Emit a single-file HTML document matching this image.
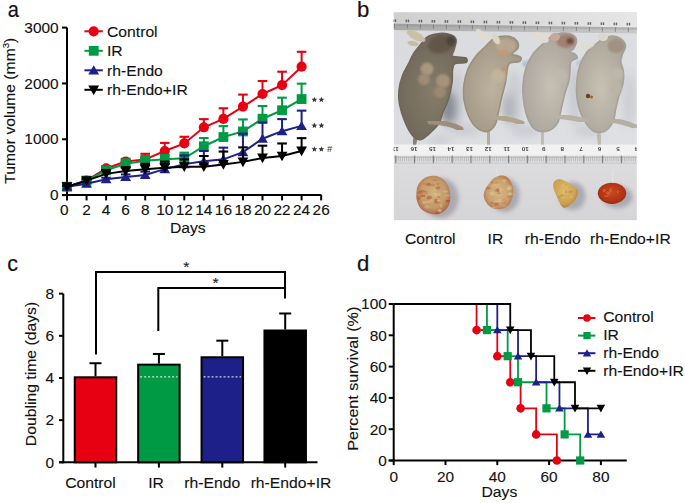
<!DOCTYPE html>
<html><head><meta charset="utf-8"><style>
html,body{margin:0;padding:0;background:#fff;}
svg{display:block;}
text{font-family:"Liberation Sans",sans-serif;}
</style></head><body>
<svg width="685" height="503" viewBox="0 0 685 503">
<rect width="685" height="503" fill="#fff"/>
<defs>
<clipPath id="pc"><rect x="393.6" y="12.2" width="243.29999999999995" height="208.20000000000002"/></clipPath>
<filter id="b1" x="-20%" y="-20%" width="140%" height="140%"><feGaussianBlur stdDeviation="0.9"/></filter>
<filter id="b15" x="-20%" y="-20%" width="140%" height="140%"><feGaussianBlur stdDeviation="1.5"/></filter>
<filter id="b2" x="-30%" y="-30%" width="160%" height="160%"><feGaussianBlur stdDeviation="2.2"/></filter>
<filter id="b3" x="-50%" y="-50%" width="200%" height="200%"><feGaussianBlur stdDeviation="4"/></filter>
<filter id="b05"><feGaussianBlur stdDeviation="0.5"/></filter>
<filter id="b07"><feGaussianBlur stdDeviation="0.7"/></filter>
<linearGradient id="bgU" x1="0" y1="0" x2="1" y2="1"><stop offset="0" stop-color="#d9dadd"/><stop offset="1" stop-color="#dfe0e3"/></linearGradient>
<linearGradient id="bgL" x1="0" y1="0" x2="0" y2="1"><stop offset="0" stop-color="#dcdcde"/><stop offset="1" stop-color="#d5d5d8"/></linearGradient>
<linearGradient id="rulT" x1="0" y1="0" x2="1" y2="0"><stop offset="0" stop-color="#cfcfcf"/><stop offset="1" stop-color="#e6e6e6"/></linearGradient>
<linearGradient id="rulB" x1="0" y1="0" x2="1" y2="0"><stop offset="0" stop-color="#9c9c9c"/><stop offset="1" stop-color="#bdbdbd"/></linearGradient>
<radialGradient id="m1" cx="0.5" cy="0.55" r="0.6"><stop offset="0" stop-color="#867c6a"/><stop offset="1" stop-color="#6c6558"/></radialGradient>
<radialGradient id="m2" cx="0.5" cy="0.55" r="0.6"><stop offset="0" stop-color="#bcb29e"/><stop offset="1" stop-color="#a09684"/></radialGradient>
<radialGradient id="m3" cx="0.5" cy="0.55" r="0.6"><stop offset="0" stop-color="#c6c0b5"/><stop offset="1" stop-color="#a8a298"/></radialGradient>
<radialGradient id="m4" cx="0.5" cy="0.55" r="0.6"><stop offset="0" stop-color="#c8c2b5"/><stop offset="1" stop-color="#aaa498"/></radialGradient>
<radialGradient id="t1" cx="0.5" cy="0.45" r="0.62"><stop offset="0" stop-color="#cdb27e"/><stop offset="0.6" stop-color="#c49a6a"/><stop offset="1" stop-color="#a85a3e"/></radialGradient>
<radialGradient id="t2" cx="0.5" cy="0.5" r="0.62"><stop offset="0" stop-color="#d4ba84"/><stop offset="0.6" stop-color="#c8a070"/><stop offset="1" stop-color="#ac6444"/></radialGradient>
<radialGradient id="t3" cx="0.45" cy="0.4" r="0.65"><stop offset="0" stop-color="#dcbc6c"/><stop offset="0.7" stop-color="#cca050"/><stop offset="1" stop-color="#a87430"/></radialGradient>
<radialGradient id="t4" cx="0.5" cy="0.45" r="0.6"><stop offset="0" stop-color="#c84a22"/><stop offset="0.7" stop-color="#b43414"/><stop offset="1" stop-color="#8a240e"/></radialGradient>
</defs>
<g clip-path="url(#pc)">
<rect x="393.6" y="12.2" width="243.29999999999995" height="132.60000000000002" fill="url(#bgU)"/>
<polygon points="393.6,12.2 636.9,12.2 636.9,33.8 393.6,30.2" fill="url(#rulT)"/>
<polygon points="393.6,23.8 636.9,27.6 636.9,33.6 393.6,30.0" fill="url(#rulB)" opacity="0.75"/>
<polygon points="393.6,23.8 636.9,27.6 636.9,28.6 393.6,24.8" fill="#8c8c8c" opacity="0.35"/>
<line x1="394.6" y1="24.6" x2="394.6" y2="26.2" stroke="#8a8a8a" stroke-width="0.4"/>
<line x1="395.9" y1="24.6" x2="395.9" y2="26.2" stroke="#8a8a8a" stroke-width="0.4"/>
<line x1="397.2" y1="24.7" x2="397.2" y2="26.3" stroke="#8a8a8a" stroke-width="0.4"/>
<line x1="398.5" y1="24.7" x2="398.5" y2="26.3" stroke="#8a8a8a" stroke-width="0.4"/>
<line x1="399.8" y1="24.7" x2="399.8" y2="26.3" stroke="#8a8a8a" stroke-width="0.4"/>
<line x1="401.1" y1="24.7" x2="401.1" y2="26.3" stroke="#8a8a8a" stroke-width="0.4"/>
<line x1="402.4" y1="24.7" x2="402.4" y2="26.3" stroke="#8a8a8a" stroke-width="0.4"/>
<line x1="403.7" y1="24.8" x2="403.7" y2="26.4" stroke="#8a8a8a" stroke-width="0.4"/>
<line x1="405.0" y1="24.8" x2="405.0" y2="26.4" stroke="#8a8a8a" stroke-width="0.4"/>
<line x1="406.3" y1="24.8" x2="406.3" y2="26.4" stroke="#8a8a8a" stroke-width="0.4"/>
<line x1="407.6" y1="24.8" x2="407.6" y2="26.4" stroke="#8a8a8a" stroke-width="0.4"/>
<line x1="408.9" y1="24.8" x2="408.9" y2="26.4" stroke="#8a8a8a" stroke-width="0.4"/>
<line x1="410.2" y1="24.9" x2="410.2" y2="26.5" stroke="#8a8a8a" stroke-width="0.4"/>
<line x1="411.5" y1="24.9" x2="411.5" y2="26.5" stroke="#8a8a8a" stroke-width="0.4"/>
<line x1="412.8" y1="24.9" x2="412.8" y2="26.5" stroke="#8a8a8a" stroke-width="0.4"/>
<line x1="414.1" y1="24.9" x2="414.1" y2="26.5" stroke="#8a8a8a" stroke-width="0.4"/>
<line x1="415.4" y1="24.9" x2="415.4" y2="26.5" stroke="#8a8a8a" stroke-width="0.4"/>
<line x1="416.7" y1="25.0" x2="416.7" y2="26.6" stroke="#8a8a8a" stroke-width="0.4"/>
<line x1="418.0" y1="25.0" x2="418.0" y2="26.6" stroke="#8a8a8a" stroke-width="0.4"/>
<line x1="419.3" y1="25.0" x2="419.3" y2="26.6" stroke="#8a8a8a" stroke-width="0.4"/>
<line x1="420.6" y1="25.0" x2="420.6" y2="26.6" stroke="#8a8a8a" stroke-width="0.4"/>
<line x1="421.9" y1="25.0" x2="421.9" y2="26.6" stroke="#8a8a8a" stroke-width="0.4"/>
<line x1="423.2" y1="25.1" x2="423.2" y2="26.7" stroke="#8a8a8a" stroke-width="0.4"/>
<line x1="424.5" y1="25.1" x2="424.5" y2="26.7" stroke="#8a8a8a" stroke-width="0.4"/>
<line x1="425.8" y1="25.1" x2="425.8" y2="26.7" stroke="#8a8a8a" stroke-width="0.4"/>
<line x1="427.1" y1="25.1" x2="427.1" y2="26.7" stroke="#8a8a8a" stroke-width="0.4"/>
<line x1="428.4" y1="25.1" x2="428.4" y2="26.7" stroke="#8a8a8a" stroke-width="0.4"/>
<line x1="429.7" y1="25.2" x2="429.7" y2="26.8" stroke="#8a8a8a" stroke-width="0.4"/>
<line x1="431.0" y1="25.2" x2="431.0" y2="26.8" stroke="#8a8a8a" stroke-width="0.4"/>
<line x1="432.3" y1="25.2" x2="432.3" y2="26.8" stroke="#8a8a8a" stroke-width="0.4"/>
<line x1="433.6" y1="25.2" x2="433.6" y2="26.8" stroke="#8a8a8a" stroke-width="0.4"/>
<line x1="434.9" y1="25.2" x2="434.9" y2="26.8" stroke="#8a8a8a" stroke-width="0.4"/>
<line x1="436.2" y1="25.3" x2="436.2" y2="26.9" stroke="#8a8a8a" stroke-width="0.4"/>
<line x1="437.5" y1="25.3" x2="437.5" y2="26.9" stroke="#8a8a8a" stroke-width="0.4"/>
<line x1="438.8" y1="25.3" x2="438.8" y2="26.9" stroke="#8a8a8a" stroke-width="0.4"/>
<line x1="440.1" y1="25.3" x2="440.1" y2="26.9" stroke="#8a8a8a" stroke-width="0.4"/>
<line x1="441.4" y1="25.3" x2="441.4" y2="26.9" stroke="#8a8a8a" stroke-width="0.4"/>
<line x1="442.7" y1="25.4" x2="442.7" y2="27.0" stroke="#8a8a8a" stroke-width="0.4"/>
<line x1="444.0" y1="25.4" x2="444.0" y2="27.0" stroke="#8a8a8a" stroke-width="0.4"/>
<line x1="445.3" y1="25.4" x2="445.3" y2="27.0" stroke="#8a8a8a" stroke-width="0.4"/>
<line x1="446.6" y1="25.4" x2="446.6" y2="27.0" stroke="#8a8a8a" stroke-width="0.4"/>
<line x1="447.9" y1="25.4" x2="447.9" y2="27.0" stroke="#8a8a8a" stroke-width="0.4"/>
<line x1="449.2" y1="25.5" x2="449.2" y2="27.1" stroke="#8a8a8a" stroke-width="0.4"/>
<line x1="450.5" y1="25.5" x2="450.5" y2="27.1" stroke="#8a8a8a" stroke-width="0.4"/>
<line x1="451.8" y1="25.5" x2="451.8" y2="27.1" stroke="#8a8a8a" stroke-width="0.4"/>
<line x1="453.1" y1="25.5" x2="453.1" y2="27.1" stroke="#8a8a8a" stroke-width="0.4"/>
<line x1="454.4" y1="25.5" x2="454.4" y2="27.1" stroke="#8a8a8a" stroke-width="0.4"/>
<line x1="455.7" y1="25.6" x2="455.7" y2="27.2" stroke="#8a8a8a" stroke-width="0.4"/>
<line x1="457.0" y1="25.6" x2="457.0" y2="27.2" stroke="#8a8a8a" stroke-width="0.4"/>
<line x1="458.3" y1="25.6" x2="458.3" y2="27.2" stroke="#8a8a8a" stroke-width="0.4"/>
<line x1="459.6" y1="25.6" x2="459.6" y2="27.2" stroke="#8a8a8a" stroke-width="0.4"/>
<line x1="460.9" y1="25.7" x2="460.9" y2="27.3" stroke="#8a8a8a" stroke-width="0.4"/>
<line x1="462.2" y1="25.7" x2="462.2" y2="27.3" stroke="#8a8a8a" stroke-width="0.4"/>
<line x1="463.5" y1="25.7" x2="463.5" y2="27.3" stroke="#8a8a8a" stroke-width="0.4"/>
<line x1="464.8" y1="25.7" x2="464.8" y2="27.3" stroke="#8a8a8a" stroke-width="0.4"/>
<line x1="466.1" y1="25.7" x2="466.1" y2="27.3" stroke="#8a8a8a" stroke-width="0.4"/>
<line x1="467.4" y1="25.8" x2="467.4" y2="27.4" stroke="#8a8a8a" stroke-width="0.4"/>
<line x1="468.7" y1="25.8" x2="468.7" y2="27.4" stroke="#8a8a8a" stroke-width="0.4"/>
<line x1="470.0" y1="25.8" x2="470.0" y2="27.4" stroke="#8a8a8a" stroke-width="0.4"/>
<line x1="471.3" y1="25.8" x2="471.3" y2="27.4" stroke="#8a8a8a" stroke-width="0.4"/>
<line x1="472.6" y1="25.8" x2="472.6" y2="27.4" stroke="#8a8a8a" stroke-width="0.4"/>
<line x1="473.9" y1="25.9" x2="473.9" y2="27.5" stroke="#8a8a8a" stroke-width="0.4"/>
<line x1="475.2" y1="25.9" x2="475.2" y2="27.5" stroke="#8a8a8a" stroke-width="0.4"/>
<line x1="476.5" y1="25.9" x2="476.5" y2="27.5" stroke="#8a8a8a" stroke-width="0.4"/>
<line x1="477.8" y1="25.9" x2="477.8" y2="27.5" stroke="#8a8a8a" stroke-width="0.4"/>
<line x1="479.1" y1="25.9" x2="479.1" y2="27.5" stroke="#8a8a8a" stroke-width="0.4"/>
<line x1="480.4" y1="26.0" x2="480.4" y2="27.6" stroke="#8a8a8a" stroke-width="0.4"/>
<line x1="481.7" y1="26.0" x2="481.7" y2="27.6" stroke="#8a8a8a" stroke-width="0.4"/>
<line x1="483.0" y1="26.0" x2="483.0" y2="27.6" stroke="#8a8a8a" stroke-width="0.4"/>
<line x1="484.3" y1="26.0" x2="484.3" y2="27.6" stroke="#8a8a8a" stroke-width="0.4"/>
<line x1="485.6" y1="26.0" x2="485.6" y2="27.6" stroke="#8a8a8a" stroke-width="0.4"/>
<line x1="486.9" y1="26.1" x2="486.9" y2="27.7" stroke="#8a8a8a" stroke-width="0.4"/>
<line x1="488.2" y1="26.1" x2="488.2" y2="27.7" stroke="#8a8a8a" stroke-width="0.4"/>
<line x1="489.5" y1="26.1" x2="489.5" y2="27.7" stroke="#8a8a8a" stroke-width="0.4"/>
<line x1="490.8" y1="26.1" x2="490.8" y2="27.7" stroke="#8a8a8a" stroke-width="0.4"/>
<line x1="492.1" y1="26.1" x2="492.1" y2="27.7" stroke="#8a8a8a" stroke-width="0.4"/>
<line x1="493.4" y1="26.2" x2="493.4" y2="27.8" stroke="#8a8a8a" stroke-width="0.4"/>
<line x1="494.7" y1="26.2" x2="494.7" y2="27.8" stroke="#8a8a8a" stroke-width="0.4"/>
<line x1="496.0" y1="26.2" x2="496.0" y2="27.8" stroke="#8a8a8a" stroke-width="0.4"/>
<line x1="497.3" y1="26.2" x2="497.3" y2="27.8" stroke="#8a8a8a" stroke-width="0.4"/>
<line x1="498.6" y1="26.2" x2="498.6" y2="27.8" stroke="#8a8a8a" stroke-width="0.4"/>
<line x1="499.9" y1="26.3" x2="499.9" y2="27.9" stroke="#8a8a8a" stroke-width="0.4"/>
<line x1="501.2" y1="26.3" x2="501.2" y2="27.9" stroke="#8a8a8a" stroke-width="0.4"/>
<line x1="502.5" y1="26.3" x2="502.5" y2="27.9" stroke="#8a8a8a" stroke-width="0.4"/>
<line x1="503.8" y1="26.3" x2="503.8" y2="27.9" stroke="#8a8a8a" stroke-width="0.4"/>
<line x1="505.1" y1="26.3" x2="505.1" y2="27.9" stroke="#8a8a8a" stroke-width="0.4"/>
<line x1="506.4" y1="26.4" x2="506.4" y2="28.0" stroke="#8a8a8a" stroke-width="0.4"/>
<line x1="507.7" y1="26.4" x2="507.7" y2="28.0" stroke="#8a8a8a" stroke-width="0.4"/>
<line x1="509.0" y1="26.4" x2="509.0" y2="28.0" stroke="#8a8a8a" stroke-width="0.4"/>
<line x1="510.3" y1="26.4" x2="510.3" y2="28.0" stroke="#8a8a8a" stroke-width="0.4"/>
<line x1="511.6" y1="26.4" x2="511.6" y2="28.0" stroke="#8a8a8a" stroke-width="0.4"/>
<line x1="512.9" y1="26.5" x2="512.9" y2="28.1" stroke="#8a8a8a" stroke-width="0.4"/>
<line x1="514.2" y1="26.5" x2="514.2" y2="28.1" stroke="#8a8a8a" stroke-width="0.4"/>
<line x1="515.5" y1="26.5" x2="515.5" y2="28.1" stroke="#8a8a8a" stroke-width="0.4"/>
<line x1="516.8" y1="26.5" x2="516.8" y2="28.1" stroke="#8a8a8a" stroke-width="0.4"/>
<line x1="518.1" y1="26.5" x2="518.1" y2="28.1" stroke="#8a8a8a" stroke-width="0.4"/>
<line x1="519.4" y1="26.6" x2="519.4" y2="28.2" stroke="#8a8a8a" stroke-width="0.4"/>
<line x1="520.7" y1="26.6" x2="520.7" y2="28.2" stroke="#8a8a8a" stroke-width="0.4"/>
<line x1="522.0" y1="26.6" x2="522.0" y2="28.2" stroke="#8a8a8a" stroke-width="0.4"/>
<line x1="523.3" y1="26.6" x2="523.3" y2="28.2" stroke="#8a8a8a" stroke-width="0.4"/>
<line x1="524.6" y1="26.6" x2="524.6" y2="28.2" stroke="#8a8a8a" stroke-width="0.4"/>
<line x1="525.9" y1="26.7" x2="525.9" y2="28.3" stroke="#8a8a8a" stroke-width="0.4"/>
<line x1="527.2" y1="26.7" x2="527.2" y2="28.3" stroke="#8a8a8a" stroke-width="0.4"/>
<line x1="528.5" y1="26.7" x2="528.5" y2="28.3" stroke="#8a8a8a" stroke-width="0.4"/>
<line x1="529.8" y1="26.7" x2="529.8" y2="28.3" stroke="#8a8a8a" stroke-width="0.4"/>
<line x1="531.1" y1="26.7" x2="531.1" y2="28.3" stroke="#8a8a8a" stroke-width="0.4"/>
<line x1="532.4" y1="26.8" x2="532.4" y2="28.4" stroke="#8a8a8a" stroke-width="0.4"/>
<line x1="533.7" y1="26.8" x2="533.7" y2="28.4" stroke="#8a8a8a" stroke-width="0.4"/>
<line x1="535.0" y1="26.8" x2="535.0" y2="28.4" stroke="#8a8a8a" stroke-width="0.4"/>
<line x1="536.3" y1="26.8" x2="536.3" y2="28.4" stroke="#8a8a8a" stroke-width="0.4"/>
<line x1="537.6" y1="26.8" x2="537.6" y2="28.4" stroke="#8a8a8a" stroke-width="0.4"/>
<line x1="538.9" y1="26.9" x2="538.9" y2="28.5" stroke="#8a8a8a" stroke-width="0.4"/>
<line x1="540.2" y1="26.9" x2="540.2" y2="28.5" stroke="#8a8a8a" stroke-width="0.4"/>
<line x1="541.5" y1="26.9" x2="541.5" y2="28.5" stroke="#8a8a8a" stroke-width="0.4"/>
<line x1="542.8" y1="26.9" x2="542.8" y2="28.5" stroke="#8a8a8a" stroke-width="0.4"/>
<line x1="544.1" y1="27.0" x2="544.1" y2="28.6" stroke="#8a8a8a" stroke-width="0.4"/>
<line x1="545.4" y1="27.0" x2="545.4" y2="28.6" stroke="#8a8a8a" stroke-width="0.4"/>
<line x1="546.7" y1="27.0" x2="546.7" y2="28.6" stroke="#8a8a8a" stroke-width="0.4"/>
<line x1="548.0" y1="27.0" x2="548.0" y2="28.6" stroke="#8a8a8a" stroke-width="0.4"/>
<line x1="549.3" y1="27.0" x2="549.3" y2="28.6" stroke="#8a8a8a" stroke-width="0.4"/>
<line x1="550.6" y1="27.1" x2="550.6" y2="28.7" stroke="#8a8a8a" stroke-width="0.4"/>
<line x1="551.9" y1="27.1" x2="551.9" y2="28.7" stroke="#8a8a8a" stroke-width="0.4"/>
<line x1="553.2" y1="27.1" x2="553.2" y2="28.7" stroke="#8a8a8a" stroke-width="0.4"/>
<line x1="554.5" y1="27.1" x2="554.5" y2="28.7" stroke="#8a8a8a" stroke-width="0.4"/>
<line x1="555.8" y1="27.1" x2="555.8" y2="28.7" stroke="#8a8a8a" stroke-width="0.4"/>
<line x1="557.1" y1="27.2" x2="557.1" y2="28.8" stroke="#8a8a8a" stroke-width="0.4"/>
<line x1="558.4" y1="27.2" x2="558.4" y2="28.8" stroke="#8a8a8a" stroke-width="0.4"/>
<line x1="559.7" y1="27.2" x2="559.7" y2="28.8" stroke="#8a8a8a" stroke-width="0.4"/>
<line x1="561.0" y1="27.2" x2="561.0" y2="28.8" stroke="#8a8a8a" stroke-width="0.4"/>
<line x1="562.3" y1="27.2" x2="562.3" y2="28.8" stroke="#8a8a8a" stroke-width="0.4"/>
<line x1="563.6" y1="27.3" x2="563.6" y2="28.9" stroke="#8a8a8a" stroke-width="0.4"/>
<line x1="564.9" y1="27.3" x2="564.9" y2="28.9" stroke="#8a8a8a" stroke-width="0.4"/>
<line x1="566.2" y1="27.3" x2="566.2" y2="28.9" stroke="#8a8a8a" stroke-width="0.4"/>
<line x1="567.5" y1="27.3" x2="567.5" y2="28.9" stroke="#8a8a8a" stroke-width="0.4"/>
<line x1="568.8" y1="27.3" x2="568.8" y2="28.9" stroke="#8a8a8a" stroke-width="0.4"/>
<line x1="570.1" y1="27.4" x2="570.1" y2="29.0" stroke="#8a8a8a" stroke-width="0.4"/>
<line x1="571.4" y1="27.4" x2="571.4" y2="29.0" stroke="#8a8a8a" stroke-width="0.4"/>
<line x1="572.7" y1="27.4" x2="572.7" y2="29.0" stroke="#8a8a8a" stroke-width="0.4"/>
<line x1="574.0" y1="27.4" x2="574.0" y2="29.0" stroke="#8a8a8a" stroke-width="0.4"/>
<line x1="575.3" y1="27.4" x2="575.3" y2="29.0" stroke="#8a8a8a" stroke-width="0.4"/>
<line x1="576.6" y1="27.5" x2="576.6" y2="29.1" stroke="#8a8a8a" stroke-width="0.4"/>
<line x1="577.9" y1="27.5" x2="577.9" y2="29.1" stroke="#8a8a8a" stroke-width="0.4"/>
<line x1="579.2" y1="27.5" x2="579.2" y2="29.1" stroke="#8a8a8a" stroke-width="0.4"/>
<line x1="580.5" y1="27.5" x2="580.5" y2="29.1" stroke="#8a8a8a" stroke-width="0.4"/>
<line x1="581.8" y1="27.5" x2="581.8" y2="29.1" stroke="#8a8a8a" stroke-width="0.4"/>
<line x1="583.1" y1="27.6" x2="583.1" y2="29.2" stroke="#8a8a8a" stroke-width="0.4"/>
<line x1="584.4" y1="27.6" x2="584.4" y2="29.2" stroke="#8a8a8a" stroke-width="0.4"/>
<line x1="585.7" y1="27.6" x2="585.7" y2="29.2" stroke="#8a8a8a" stroke-width="0.4"/>
<line x1="587.0" y1="27.6" x2="587.0" y2="29.2" stroke="#8a8a8a" stroke-width="0.4"/>
<line x1="588.3" y1="27.6" x2="588.3" y2="29.2" stroke="#8a8a8a" stroke-width="0.4"/>
<line x1="589.6" y1="27.7" x2="589.6" y2="29.3" stroke="#8a8a8a" stroke-width="0.4"/>
<line x1="590.9" y1="27.7" x2="590.9" y2="29.3" stroke="#8a8a8a" stroke-width="0.4"/>
<line x1="592.2" y1="27.7" x2="592.2" y2="29.3" stroke="#8a8a8a" stroke-width="0.4"/>
<line x1="593.5" y1="27.7" x2="593.5" y2="29.3" stroke="#8a8a8a" stroke-width="0.4"/>
<line x1="594.8" y1="27.7" x2="594.8" y2="29.3" stroke="#8a8a8a" stroke-width="0.4"/>
<line x1="596.1" y1="27.8" x2="596.1" y2="29.4" stroke="#8a8a8a" stroke-width="0.4"/>
<line x1="597.4" y1="27.8" x2="597.4" y2="29.4" stroke="#8a8a8a" stroke-width="0.4"/>
<line x1="598.7" y1="27.8" x2="598.7" y2="29.4" stroke="#8a8a8a" stroke-width="0.4"/>
<line x1="600.0" y1="27.8" x2="600.0" y2="29.4" stroke="#8a8a8a" stroke-width="0.4"/>
<line x1="601.3" y1="27.8" x2="601.3" y2="29.4" stroke="#8a8a8a" stroke-width="0.4"/>
<line x1="602.6" y1="27.9" x2="602.6" y2="29.5" stroke="#8a8a8a" stroke-width="0.4"/>
<line x1="603.9" y1="27.9" x2="603.9" y2="29.5" stroke="#8a8a8a" stroke-width="0.4"/>
<line x1="605.2" y1="27.9" x2="605.2" y2="29.5" stroke="#8a8a8a" stroke-width="0.4"/>
<line x1="606.5" y1="27.9" x2="606.5" y2="29.5" stroke="#8a8a8a" stroke-width="0.4"/>
<line x1="607.8" y1="27.9" x2="607.8" y2="29.5" stroke="#8a8a8a" stroke-width="0.4"/>
<line x1="609.1" y1="28.0" x2="609.1" y2="29.6" stroke="#8a8a8a" stroke-width="0.4"/>
<line x1="610.4" y1="28.0" x2="610.4" y2="29.6" stroke="#8a8a8a" stroke-width="0.4"/>
<line x1="611.7" y1="28.0" x2="611.7" y2="29.6" stroke="#8a8a8a" stroke-width="0.4"/>
<line x1="613.0" y1="28.0" x2="613.0" y2="29.6" stroke="#8a8a8a" stroke-width="0.4"/>
<line x1="614.3" y1="28.0" x2="614.3" y2="29.6" stroke="#8a8a8a" stroke-width="0.4"/>
<line x1="615.6" y1="28.1" x2="615.6" y2="29.7" stroke="#8a8a8a" stroke-width="0.4"/>
<line x1="616.9" y1="28.1" x2="616.9" y2="29.7" stroke="#8a8a8a" stroke-width="0.4"/>
<line x1="618.2" y1="28.1" x2="618.2" y2="29.7" stroke="#8a8a8a" stroke-width="0.4"/>
<line x1="619.5" y1="28.1" x2="619.5" y2="29.7" stroke="#8a8a8a" stroke-width="0.4"/>
<line x1="620.8" y1="28.1" x2="620.8" y2="29.7" stroke="#8a8a8a" stroke-width="0.4"/>
<line x1="622.1" y1="28.2" x2="622.1" y2="29.8" stroke="#8a8a8a" stroke-width="0.4"/>
<line x1="623.4" y1="28.2" x2="623.4" y2="29.8" stroke="#8a8a8a" stroke-width="0.4"/>
<line x1="624.7" y1="28.2" x2="624.7" y2="29.8" stroke="#8a8a8a" stroke-width="0.4"/>
<line x1="626.0" y1="28.2" x2="626.0" y2="29.8" stroke="#8a8a8a" stroke-width="0.4"/>
<line x1="627.3" y1="28.3" x2="627.3" y2="29.9" stroke="#8a8a8a" stroke-width="0.4"/>
<line x1="628.6" y1="28.3" x2="628.6" y2="29.9" stroke="#8a8a8a" stroke-width="0.4"/>
<line x1="629.9" y1="28.3" x2="629.9" y2="29.9" stroke="#8a8a8a" stroke-width="0.4"/>
<line x1="631.2" y1="28.3" x2="631.2" y2="29.9" stroke="#8a8a8a" stroke-width="0.4"/>
<line x1="632.5" y1="28.3" x2="632.5" y2="29.9" stroke="#8a8a8a" stroke-width="0.4"/>
<line x1="633.8" y1="28.4" x2="633.8" y2="30.0" stroke="#8a8a8a" stroke-width="0.4"/>
<line x1="635.1" y1="28.4" x2="635.1" y2="30.0" stroke="#8a8a8a" stroke-width="0.4"/>
<line x1="636.4" y1="28.4" x2="636.4" y2="30.0" stroke="#8a8a8a" stroke-width="0.4"/>
<line x1="394.4" y1="24.0" x2="394.4" y2="28.2" stroke="#666" stroke-width="0.6"/>
<rect x="392.6" y="19.4" width="1.3" height="2.6" fill="#333" opacity="0.7" filter="url(#b05)"/>
<rect x="394.7" y="19.4" width="1.5" height="2.6" fill="#333" opacity="0.7" filter="url(#b05)"/>
<line x1="407.4" y1="24.2" x2="407.4" y2="28.4" stroke="#666" stroke-width="0.6"/>
<rect x="405.6" y="19.6" width="1.3" height="2.6" fill="#333" opacity="0.7" filter="url(#b05)"/>
<rect x="407.7" y="19.6" width="1.5" height="2.6" fill="#333" opacity="0.7" filter="url(#b05)"/>
<line x1="420.4" y1="24.4" x2="420.4" y2="28.6" stroke="#666" stroke-width="0.6"/>
<rect x="418.6" y="19.8" width="1.3" height="2.6" fill="#333" opacity="0.7" filter="url(#b05)"/>
<rect x="420.7" y="19.8" width="1.5" height="2.6" fill="#333" opacity="0.7" filter="url(#b05)"/>
<line x1="433.4" y1="24.6" x2="433.4" y2="28.8" stroke="#666" stroke-width="0.6"/>
<rect x="431.6" y="20.0" width="1.3" height="2.6" fill="#333" opacity="0.7" filter="url(#b05)"/>
<rect x="433.7" y="20.0" width="1.5" height="2.6" fill="#333" opacity="0.7" filter="url(#b05)"/>
<line x1="446.4" y1="24.8" x2="446.4" y2="29.0" stroke="#666" stroke-width="0.6"/>
<rect x="444.6" y="20.2" width="1.3" height="2.6" fill="#333" opacity="0.7" filter="url(#b05)"/>
<rect x="446.7" y="20.2" width="1.5" height="2.6" fill="#333" opacity="0.7" filter="url(#b05)"/>
<line x1="459.4" y1="25.0" x2="459.4" y2="29.2" stroke="#666" stroke-width="0.6"/>
<rect x="457.6" y="20.3" width="1.3" height="2.6" fill="#333" opacity="0.7" filter="url(#b05)"/>
<rect x="459.7" y="20.3" width="1.5" height="2.6" fill="#333" opacity="0.7" filter="url(#b05)"/>
<line x1="472.4" y1="25.2" x2="472.4" y2="29.4" stroke="#666" stroke-width="0.6"/>
<rect x="470.6" y="20.5" width="1.3" height="2.6" fill="#333" opacity="0.7" filter="url(#b05)"/>
<rect x="472.7" y="20.5" width="1.5" height="2.6" fill="#333" opacity="0.7" filter="url(#b05)"/>
<line x1="485.4" y1="25.4" x2="485.4" y2="29.6" stroke="#666" stroke-width="0.6"/>
<rect x="483.6" y="20.7" width="1.3" height="2.6" fill="#333" opacity="0.7" filter="url(#b05)"/>
<rect x="485.7" y="20.7" width="1.5" height="2.6" fill="#333" opacity="0.7" filter="url(#b05)"/>
<line x1="498.4" y1="25.6" x2="498.4" y2="29.8" stroke="#666" stroke-width="0.6"/>
<rect x="496.6" y="20.9" width="1.3" height="2.6" fill="#333" opacity="0.7" filter="url(#b05)"/>
<rect x="498.7" y="20.9" width="1.5" height="2.6" fill="#333" opacity="0.7" filter="url(#b05)"/>
<line x1="511.4" y1="25.8" x2="511.4" y2="30.0" stroke="#666" stroke-width="0.6"/>
<rect x="509.6" y="21.1" width="1.3" height="2.6" fill="#333" opacity="0.7" filter="url(#b05)"/>
<rect x="511.7" y="21.1" width="1.5" height="2.6" fill="#333" opacity="0.7" filter="url(#b05)"/>
<line x1="524.4" y1="26.0" x2="524.4" y2="30.2" stroke="#666" stroke-width="0.6"/>
<rect x="522.6" y="21.3" width="1.3" height="2.6" fill="#333" opacity="0.7" filter="url(#b05)"/>
<rect x="524.7" y="21.3" width="1.5" height="2.6" fill="#333" opacity="0.7" filter="url(#b05)"/>
<line x1="537.4" y1="26.2" x2="537.4" y2="30.4" stroke="#666" stroke-width="0.6"/>
<rect x="535.6" y="21.5" width="1.3" height="2.6" fill="#333" opacity="0.7" filter="url(#b05)"/>
<rect x="537.7" y="21.5" width="1.5" height="2.6" fill="#333" opacity="0.7" filter="url(#b05)"/>
<line x1="550.4" y1="26.4" x2="550.4" y2="30.6" stroke="#666" stroke-width="0.6"/>
<rect x="548.6" y="21.7" width="1.3" height="2.6" fill="#333" opacity="0.7" filter="url(#b05)"/>
<rect x="550.7" y="21.7" width="1.5" height="2.6" fill="#333" opacity="0.7" filter="url(#b05)"/>
<line x1="563.4" y1="26.7" x2="563.4" y2="30.9" stroke="#666" stroke-width="0.6"/>
<rect x="561.6" y="21.8" width="1.3" height="2.6" fill="#333" opacity="0.7" filter="url(#b05)"/>
<rect x="563.7" y="21.8" width="1.5" height="2.6" fill="#333" opacity="0.7" filter="url(#b05)"/>
<line x1="576.4" y1="26.9" x2="576.4" y2="31.1" stroke="#666" stroke-width="0.6"/>
<rect x="574.6" y="22.0" width="1.3" height="2.6" fill="#333" opacity="0.7" filter="url(#b05)"/>
<rect x="576.7" y="22.0" width="1.5" height="2.6" fill="#333" opacity="0.7" filter="url(#b05)"/>
<line x1="589.4" y1="27.1" x2="589.4" y2="31.3" stroke="#666" stroke-width="0.6"/>
<rect x="587.6" y="22.2" width="1.3" height="2.6" fill="#333" opacity="0.7" filter="url(#b05)"/>
<rect x="589.7" y="22.2" width="1.5" height="2.6" fill="#333" opacity="0.7" filter="url(#b05)"/>
<line x1="602.4" y1="27.3" x2="602.4" y2="31.5" stroke="#666" stroke-width="0.6"/>
<rect x="600.6" y="22.4" width="1.3" height="2.6" fill="#333" opacity="0.7" filter="url(#b05)"/>
<rect x="602.7" y="22.4" width="1.5" height="2.6" fill="#333" opacity="0.7" filter="url(#b05)"/>
<line x1="615.4" y1="27.5" x2="615.4" y2="31.7" stroke="#666" stroke-width="0.6"/>
<rect x="613.6" y="22.6" width="1.3" height="2.6" fill="#333" opacity="0.7" filter="url(#b05)"/>
<rect x="615.7" y="22.6" width="1.5" height="2.6" fill="#333" opacity="0.7" filter="url(#b05)"/>
<line x1="628.4" y1="27.7" x2="628.4" y2="31.9" stroke="#666" stroke-width="0.6"/>
<rect x="626.6" y="22.8" width="1.3" height="2.6" fill="#333" opacity="0.7" filter="url(#b05)"/>
<rect x="628.7" y="22.8" width="1.5" height="2.6" fill="#333" opacity="0.7" filter="url(#b05)"/>
<ellipse cx="456" cy="100" rx="8" ry="30" fill="#b2b6be" opacity="0.5" filter="url(#b3)"/>
<ellipse cx="514" cy="100" rx="8" ry="30" fill="#b2b6be" opacity="0.45" filter="url(#b3)"/>
<ellipse cx="575" cy="95" rx="7" ry="30" fill="#b2b6be" opacity="0.5" filter="url(#b3)"/>
<ellipse cx="629" cy="100" rx="6" ry="28" fill="#b2b6be" opacity="0.4" filter="url(#b3)"/>
<ellipse cx="466" cy="130" rx="14" ry="5" fill="#b2b6be" opacity="0.5" filter="url(#b3)"/>
<ellipse cx="526" cy="131" rx="14" ry="5" fill="#b2b6be" opacity="0.5" filter="url(#b3)"/>
<ellipse cx="588" cy="131" rx="14" ry="5" fill="#b2b6be" opacity="0.5" filter="url(#b3)"/>
<ellipse cx="440" cy="140" rx="12" ry="5" fill="#b2b6be" opacity="0.4" filter="url(#b3)"/>
<ellipse cx="448" cy="108" rx="8" ry="17" fill="#6e727c" opacity="0.75" filter="url(#b3)"/>
<ellipse cx="508" cy="108" rx="6" ry="14" fill="#8e929c" opacity="0.5" filter="url(#b3)"/>
<ellipse cx="527" cy="64" rx="5" ry="3.5" fill="#a8bcd4" opacity="0.8" filter="url(#b1)"/>
<ellipse cx="580" cy="63" rx="4" ry="3.5" fill="#aebcd0" opacity="0.6" filter="url(#b1)"/>
<line x1="416" y1="134" x2="414" y2="146" stroke="#8a8174" stroke-width="4" stroke-linecap="round" filter="url(#b05)"/>
<line x1="488" y1="128" x2="489" y2="146" stroke="#b4ab9a" stroke-width="4" stroke-linecap="round" filter="url(#b05)"/>
<line x1="542" y1="128" x2="543" y2="146" stroke="#c0bcb4" stroke-width="4" stroke-linecap="round" filter="url(#b05)"/>
<line x1="598" y1="128" x2="600" y2="146" stroke="#bfbab0" stroke-width="4" stroke-linecap="round" filter="url(#b05)"/>
<path d="M421.0,44.0 C423.3,41.2 424.8,38.2 428.0,36.5 C431.2,34.8 436.2,33.8 440.0,33.5 C443.8,33.2 448.3,33.9 451.0,35.0 C453.7,36.1 455.5,37.5 456.0,40.0 C456.5,42.5 454.7,47.3 454.0,50.0 C453.3,52.7 451.3,54.8 452.0,56.0 C452.7,57.2 455.7,56.7 458.0,57.0 C460.3,57.3 464.7,57.1 466.0,58.0 C467.3,58.9 467.8,61.6 466.0,62.5 C464.2,63.4 457.2,62.2 455.0,63.5 C452.8,64.8 453.0,66.8 452.5,70.0 C452.0,73.2 452.7,77.8 452.0,82.6 C451.3,87.4 450.0,94.1 448.5,99.0 C447.0,103.9 444.6,108.0 443.0,112.0 C441.4,116.0 441.0,119.7 439.0,123.0 C437.0,126.3 434.0,129.2 431.0,132.0 C428.0,134.8 424.0,138.8 421.0,139.5 C418.0,140.2 415.7,138.9 413.0,136.0 C410.3,133.1 407.2,127.3 405.0,122.0 C402.8,116.7 400.5,109.3 399.5,104.0 C398.5,98.7 398.5,94.7 399.0,90.0 C399.5,85.3 400.9,80.1 402.5,75.7 C404.1,71.3 406.6,67.6 408.5,63.8 C410.4,60.0 411.9,56.3 414.0,53.0 C416.1,49.7 418.7,46.8 421.0,44.0Z" fill="url(#m1)" stroke="#6e665a" stroke-width="1.6" filter="url(#b07)"/>
<path d="M485.0,47.0 C487.7,44.3 489.5,41.8 492.0,40.0 C494.5,38.2 497.0,37.1 500.0,36.5 C503.0,35.9 507.2,35.8 510.0,36.5 C512.8,37.2 515.7,39.1 517.0,41.0 C518.3,42.9 518.8,45.8 518.0,48.0 C517.2,50.2 512.2,52.8 512.0,54.0 C511.8,55.2 515.5,54.9 517.0,55.5 C518.5,56.1 520.6,56.5 521.0,57.5 C521.4,58.5 521.3,60.6 519.5,61.5 C517.7,62.4 512.0,61.9 510.0,63.0 C508.0,64.1 508.3,64.7 507.5,68.0 C506.7,71.3 506.5,77.3 505.4,82.6 C504.3,87.9 502.2,94.8 501.0,100.0 C499.8,105.2 499.0,109.8 498.0,114.0 C497.0,118.2 496.8,122.1 495.0,125.0 C493.2,127.9 490.0,131.0 487.0,131.5 C484.0,132.0 480.0,130.4 477.0,128.0 C474.0,125.6 471.2,121.7 469.0,117.0 C466.8,112.3 464.8,105.5 464.0,100.0 C463.2,94.5 463.3,89.2 464.0,84.0 C464.7,78.8 466.0,73.7 468.0,69.0 C470.0,64.3 473.2,59.7 476.0,56.0 C478.8,52.3 482.3,49.7 485.0,47.0Z" fill="url(#m2)" stroke="#9a907e" stroke-width="1.6" filter="url(#b07)"/>
<path d="M545.0,42.0 C548.2,39.0 549.2,37.5 552.0,36.0 C554.8,34.5 558.7,33.2 562.0,33.0 C565.3,32.8 569.6,33.3 572.0,34.5 C574.4,35.7 576.2,37.8 576.5,40.0 C576.8,42.2 575.1,46.0 574.0,48.0 C572.9,50.0 569.8,51.0 570.0,52.0 C570.2,53.0 573.8,53.0 575.0,54.0 C576.2,55.0 577.7,56.8 577.0,58.0 C576.3,59.2 572.2,59.5 571.0,61.5 C569.8,63.5 570.3,66.9 570.0,70.0 C569.7,73.1 569.9,75.8 569.0,80.0 C568.1,84.2 565.8,90.0 564.5,95.0 C563.2,100.0 562.1,105.5 561.0,110.0 C559.9,114.5 560.0,118.6 558.0,122.0 C556.0,125.4 552.7,129.2 549.0,130.5 C545.3,131.8 539.5,131.9 536.0,130.0 C532.5,128.1 530.1,124.0 528.0,119.0 C525.9,114.0 524.3,105.8 523.5,100.0 C522.7,94.2 522.6,89.3 523.0,84.0 C523.4,78.7 524.3,73.0 526.0,68.0 C527.7,63.0 529.8,58.3 533.0,54.0 C536.2,49.7 541.8,45.0 545.0,42.0Z" fill="url(#m3)" stroke="#a4a19b" stroke-width="1.6" filter="url(#b07)"/>
<path d="M596.0,44.0 C598.7,41.8 600.3,40.3 603.0,39.0 C605.7,37.7 609.0,36.0 612.0,36.0 C615.0,36.0 618.8,37.3 621.0,39.0 C623.2,40.7 625.2,43.7 625.5,46.0 C625.8,48.3 623.8,50.5 623.0,53.0 C622.2,55.5 620.7,58.1 620.8,61.3 C620.9,64.5 623.1,68.2 623.5,72.0 C623.9,75.8 623.7,79.8 622.9,84.0 C622.1,88.2 619.8,92.7 618.6,97.0 C617.4,101.3 616.4,105.8 615.5,110.0 C614.6,114.2 614.9,118.4 613.0,122.0 C611.1,125.6 607.5,130.2 604.0,131.5 C600.5,132.8 595.7,132.6 592.0,130.0 C588.3,127.4 584.5,121.3 582.0,116.0 C579.5,110.7 577.8,104.0 577.0,98.0 C576.2,92.0 576.5,85.5 577.0,80.0 C577.5,74.5 578.3,69.7 580.0,65.0 C581.7,60.3 584.3,55.5 587.0,52.0 C589.7,48.5 593.3,46.2 596.0,44.0Z" fill="url(#m4)" stroke="#a6a298" stroke-width="1.6" filter="url(#b07)"/>
<ellipse cx="441" cy="44" rx="13.5" ry="9" transform="rotate(-15 441 44)" fill="#625649" filter="url(#b15)"/>
<ellipse cx="451" cy="41" rx="4.5" ry="5" fill="#4a443e" filter="url(#b1)"/>
<ellipse cx="416" cy="36" rx="10.5" ry="4" transform="rotate(28 416 36)" fill="#c9c1a6" filter="url(#b05)"/>
<ellipse cx="413" cy="43.5" rx="5.5" ry="2.4" transform="rotate(12 413 43.5)" fill="#c4baa2" filter="url(#b05)"/>
<circle cx="427" cy="69" r="6.5" fill="#a89680" filter="url(#b1)"/>
<circle cx="424" cy="79.5" r="5.8" fill="#9e8c76" filter="url(#b1)"/>
<circle cx="443" cy="81" r="7" fill="#a4927c" filter="url(#b1)"/>
<circle cx="440" cy="92" r="6" fill="#9a8872" filter="url(#b1)"/>
<path d="M430,122 Q448,122 461,129" stroke="#9c8e7a" stroke-width="5" fill="none" stroke-linecap="round" filter="url(#b07)"/>
<ellipse cx="506" cy="46" rx="10" ry="7.5" fill="#b8a692" filter="url(#b1)"/>
<ellipse cx="503" cy="53" rx="6" ry="3.5" fill="#c49a72" opacity="0.8" filter="url(#b1)"/>
<ellipse cx="482" cy="35" rx="8" ry="3.3" transform="rotate(45 482 35)" fill="#e2ddca" filter="url(#b05)"/>
<ellipse cx="496" cy="39" rx="6" ry="3.3" transform="rotate(60 496 39)" fill="#ddd6c2" filter="url(#b05)"/>
<circle cx="498" cy="76" r="7" fill="#c0b49e" filter="url(#b1)"/>
<circle cx="504" cy="69" r="2.5" fill="#c4946e" filter="url(#b1)"/>
<path d="M492,117 Q509,118 522,123" stroke="#b0a690" stroke-width="5" fill="none" stroke-linecap="round" filter="url(#b07)"/>
<ellipse cx="566" cy="41" rx="9.5" ry="7" fill="#a08272" filter="url(#b1)"/>
<ellipse cx="570" cy="41" rx="3.5" ry="3" fill="#6a4c40" filter="url(#b1)"/>
<ellipse cx="541" cy="37.5" rx="8.5" ry="4.5" transform="rotate(25 541 37.5)" fill="#e0dcd2" filter="url(#b05)"/>
<ellipse cx="555" cy="37" rx="5" ry="4" fill="#c8a898" filter="url(#b05)"/>
<circle cx="561" cy="76" r="6.5" fill="#bfb9ad" filter="url(#b1)"/>
<path d="M553,116 Q571,117 586,121" stroke="#b8b2a6" stroke-width="5" fill="none" stroke-linecap="round" filter="url(#b07)"/>
<ellipse cx="616" cy="46" rx="8.5" ry="7" fill="#a09282" filter="url(#b1)"/>
<ellipse cx="587" cy="45" rx="7.5" ry="4" transform="rotate(-10 587 45)" fill="#e0dcd0" filter="url(#b05)"/>
<ellipse cx="603" cy="37" rx="5" ry="4" fill="#ddd8cc" filter="url(#b05)"/>
<circle cx="617" cy="74" r="6" fill="#bdb7aa" filter="url(#b1)"/>
<circle cx="616" cy="89" r="6" fill="#bab4a7" filter="url(#b1)"/>
<circle cx="588" cy="96" r="2.2" fill="#6a4020" filter="url(#b05)"/>
<circle cx="591.5" cy="97" r="1.6" fill="#9a6a3a" filter="url(#b05)"/>
<path d="M607,120 Q623,121 636,127" stroke="#b6b0a4" stroke-width="5" fill="none" stroke-linecap="round" filter="url(#b07)"/>
<rect x="393.6" y="144.7" width="243.29999999999995" height="10.6" fill="#f2f2f2"/>
<rect x="393.6" y="155.3" width="243.29999999999995" height="8.4" fill="#e2e2e2"/>
<line x1="393.6" y1="157" x2="636.9" y2="157" stroke="#8a8a8a" stroke-width="0.5"/>
<line x1="393.6" y1="163.2" x2="636.9" y2="163.2" stroke="#b0b0b0" stroke-width="0.8"/>
<line x1="395.0" y1="157" x2="395.0" y2="161.5" stroke="#8a8a8a" stroke-width="0.45"/>
<line x1="396.9" y1="157" x2="396.9" y2="161.5" stroke="#8a8a8a" stroke-width="0.45"/>
<line x1="398.8" y1="157" x2="398.8" y2="161.5" stroke="#8a8a8a" stroke-width="0.45"/>
<line x1="400.6" y1="157" x2="400.6" y2="161.5" stroke="#8a8a8a" stroke-width="0.45"/>
<line x1="402.5" y1="157" x2="402.5" y2="161.5" stroke="#8a8a8a" stroke-width="0.45"/>
<line x1="404.4" y1="157" x2="404.4" y2="161.5" stroke="#8a8a8a" stroke-width="0.45"/>
<line x1="406.3" y1="157" x2="406.3" y2="161.5" stroke="#8a8a8a" stroke-width="0.45"/>
<line x1="408.2" y1="157" x2="408.2" y2="161.5" stroke="#8a8a8a" stroke-width="0.45"/>
<line x1="410.0" y1="157" x2="410.0" y2="161.5" stroke="#8a8a8a" stroke-width="0.45"/>
<line x1="411.9" y1="157" x2="411.9" y2="161.5" stroke="#8a8a8a" stroke-width="0.45"/>
<line x1="413.8" y1="157" x2="413.8" y2="161.5" stroke="#8a8a8a" stroke-width="0.45"/>
<line x1="415.7" y1="157" x2="415.7" y2="161.5" stroke="#8a8a8a" stroke-width="0.45"/>
<line x1="417.6" y1="157" x2="417.6" y2="161.5" stroke="#8a8a8a" stroke-width="0.45"/>
<line x1="419.4" y1="157" x2="419.4" y2="161.5" stroke="#8a8a8a" stroke-width="0.45"/>
<line x1="421.3" y1="157" x2="421.3" y2="161.5" stroke="#8a8a8a" stroke-width="0.45"/>
<line x1="423.2" y1="157" x2="423.2" y2="161.5" stroke="#8a8a8a" stroke-width="0.45"/>
<line x1="425.1" y1="157" x2="425.1" y2="161.5" stroke="#8a8a8a" stroke-width="0.45"/>
<line x1="427.0" y1="157" x2="427.0" y2="161.5" stroke="#8a8a8a" stroke-width="0.45"/>
<line x1="428.8" y1="157" x2="428.8" y2="161.5" stroke="#8a8a8a" stroke-width="0.45"/>
<line x1="430.7" y1="157" x2="430.7" y2="161.5" stroke="#8a8a8a" stroke-width="0.45"/>
<line x1="432.6" y1="157" x2="432.6" y2="161.5" stroke="#8a8a8a" stroke-width="0.45"/>
<line x1="434.5" y1="157" x2="434.5" y2="161.5" stroke="#8a8a8a" stroke-width="0.45"/>
<line x1="436.4" y1="157" x2="436.4" y2="161.5" stroke="#8a8a8a" stroke-width="0.45"/>
<line x1="438.2" y1="157" x2="438.2" y2="161.5" stroke="#8a8a8a" stroke-width="0.45"/>
<line x1="440.1" y1="157" x2="440.1" y2="161.5" stroke="#8a8a8a" stroke-width="0.45"/>
<line x1="442.0" y1="157" x2="442.0" y2="161.5" stroke="#8a8a8a" stroke-width="0.45"/>
<line x1="443.9" y1="157" x2="443.9" y2="161.5" stroke="#8a8a8a" stroke-width="0.45"/>
<line x1="445.8" y1="157" x2="445.8" y2="161.5" stroke="#8a8a8a" stroke-width="0.45"/>
<line x1="447.6" y1="157" x2="447.6" y2="161.5" stroke="#8a8a8a" stroke-width="0.45"/>
<line x1="449.5" y1="157" x2="449.5" y2="161.5" stroke="#8a8a8a" stroke-width="0.45"/>
<line x1="451.4" y1="157" x2="451.4" y2="161.5" stroke="#8a8a8a" stroke-width="0.45"/>
<line x1="453.3" y1="157" x2="453.3" y2="161.5" stroke="#8a8a8a" stroke-width="0.45"/>
<line x1="455.2" y1="157" x2="455.2" y2="161.5" stroke="#8a8a8a" stroke-width="0.45"/>
<line x1="457.0" y1="157" x2="457.0" y2="161.5" stroke="#8a8a8a" stroke-width="0.45"/>
<line x1="458.9" y1="157" x2="458.9" y2="161.5" stroke="#8a8a8a" stroke-width="0.45"/>
<line x1="460.8" y1="157" x2="460.8" y2="161.5" stroke="#8a8a8a" stroke-width="0.45"/>
<line x1="462.7" y1="157" x2="462.7" y2="161.5" stroke="#8a8a8a" stroke-width="0.45"/>
<line x1="464.6" y1="157" x2="464.6" y2="161.5" stroke="#8a8a8a" stroke-width="0.45"/>
<line x1="466.4" y1="157" x2="466.4" y2="161.5" stroke="#8a8a8a" stroke-width="0.45"/>
<line x1="468.3" y1="157" x2="468.3" y2="161.5" stroke="#8a8a8a" stroke-width="0.45"/>
<line x1="470.2" y1="157" x2="470.2" y2="161.5" stroke="#8a8a8a" stroke-width="0.45"/>
<line x1="472.1" y1="157" x2="472.1" y2="161.5" stroke="#8a8a8a" stroke-width="0.45"/>
<line x1="474.0" y1="157" x2="474.0" y2="161.5" stroke="#8a8a8a" stroke-width="0.45"/>
<line x1="475.8" y1="157" x2="475.8" y2="161.5" stroke="#8a8a8a" stroke-width="0.45"/>
<line x1="477.7" y1="157" x2="477.7" y2="161.5" stroke="#8a8a8a" stroke-width="0.45"/>
<line x1="479.6" y1="157" x2="479.6" y2="161.5" stroke="#8a8a8a" stroke-width="0.45"/>
<line x1="481.5" y1="157" x2="481.5" y2="161.5" stroke="#8a8a8a" stroke-width="0.45"/>
<line x1="483.4" y1="157" x2="483.4" y2="161.5" stroke="#8a8a8a" stroke-width="0.45"/>
<line x1="485.2" y1="157" x2="485.2" y2="161.5" stroke="#8a8a8a" stroke-width="0.45"/>
<line x1="487.1" y1="157" x2="487.1" y2="161.5" stroke="#8a8a8a" stroke-width="0.45"/>
<line x1="489.0" y1="157" x2="489.0" y2="161.5" stroke="#8a8a8a" stroke-width="0.45"/>
<line x1="490.9" y1="157" x2="490.9" y2="161.5" stroke="#8a8a8a" stroke-width="0.45"/>
<line x1="492.8" y1="157" x2="492.8" y2="161.5" stroke="#8a8a8a" stroke-width="0.45"/>
<line x1="494.6" y1="157" x2="494.6" y2="161.5" stroke="#8a8a8a" stroke-width="0.45"/>
<line x1="496.5" y1="157" x2="496.5" y2="161.5" stroke="#8a8a8a" stroke-width="0.45"/>
<line x1="498.4" y1="157" x2="498.4" y2="161.5" stroke="#8a8a8a" stroke-width="0.45"/>
<line x1="500.3" y1="157" x2="500.3" y2="161.5" stroke="#8a8a8a" stroke-width="0.45"/>
<line x1="502.2" y1="157" x2="502.2" y2="161.5" stroke="#8a8a8a" stroke-width="0.45"/>
<line x1="504.0" y1="157" x2="504.0" y2="161.5" stroke="#8a8a8a" stroke-width="0.45"/>
<line x1="505.9" y1="157" x2="505.9" y2="161.5" stroke="#8a8a8a" stroke-width="0.45"/>
<line x1="507.8" y1="157" x2="507.8" y2="161.5" stroke="#8a8a8a" stroke-width="0.45"/>
<line x1="509.7" y1="157" x2="509.7" y2="161.5" stroke="#8a8a8a" stroke-width="0.45"/>
<line x1="511.6" y1="157" x2="511.6" y2="161.5" stroke="#8a8a8a" stroke-width="0.45"/>
<line x1="513.4" y1="157" x2="513.4" y2="161.5" stroke="#8a8a8a" stroke-width="0.45"/>
<line x1="515.3" y1="157" x2="515.3" y2="161.5" stroke="#8a8a8a" stroke-width="0.45"/>
<line x1="517.2" y1="157" x2="517.2" y2="161.5" stroke="#8a8a8a" stroke-width="0.45"/>
<line x1="519.1" y1="157" x2="519.1" y2="161.5" stroke="#8a8a8a" stroke-width="0.45"/>
<line x1="521.0" y1="157" x2="521.0" y2="161.5" stroke="#8a8a8a" stroke-width="0.45"/>
<line x1="522.8" y1="157" x2="522.8" y2="161.5" stroke="#8a8a8a" stroke-width="0.45"/>
<line x1="524.7" y1="157" x2="524.7" y2="161.5" stroke="#8a8a8a" stroke-width="0.45"/>
<line x1="526.6" y1="157" x2="526.6" y2="161.5" stroke="#8a8a8a" stroke-width="0.45"/>
<line x1="528.5" y1="157" x2="528.5" y2="161.5" stroke="#8a8a8a" stroke-width="0.45"/>
<line x1="530.4" y1="157" x2="530.4" y2="161.5" stroke="#8a8a8a" stroke-width="0.45"/>
<line x1="532.2" y1="157" x2="532.2" y2="161.5" stroke="#8a8a8a" stroke-width="0.45"/>
<line x1="534.1" y1="157" x2="534.1" y2="161.5" stroke="#8a8a8a" stroke-width="0.45"/>
<line x1="536.0" y1="157" x2="536.0" y2="161.5" stroke="#8a8a8a" stroke-width="0.45"/>
<line x1="537.9" y1="157" x2="537.9" y2="161.5" stroke="#8a8a8a" stroke-width="0.45"/>
<line x1="539.8" y1="157" x2="539.8" y2="161.5" stroke="#8a8a8a" stroke-width="0.45"/>
<line x1="541.6" y1="157" x2="541.6" y2="161.5" stroke="#8a8a8a" stroke-width="0.45"/>
<line x1="543.5" y1="157" x2="543.5" y2="161.5" stroke="#8a8a8a" stroke-width="0.45"/>
<line x1="545.4" y1="157" x2="545.4" y2="161.5" stroke="#8a8a8a" stroke-width="0.45"/>
<line x1="547.3" y1="157" x2="547.3" y2="161.5" stroke="#8a8a8a" stroke-width="0.45"/>
<line x1="549.2" y1="157" x2="549.2" y2="161.5" stroke="#8a8a8a" stroke-width="0.45"/>
<line x1="551.0" y1="157" x2="551.0" y2="161.5" stroke="#8a8a8a" stroke-width="0.45"/>
<line x1="552.9" y1="157" x2="552.9" y2="161.5" stroke="#8a8a8a" stroke-width="0.45"/>
<line x1="554.8" y1="157" x2="554.8" y2="161.5" stroke="#8a8a8a" stroke-width="0.45"/>
<line x1="556.7" y1="157" x2="556.7" y2="161.5" stroke="#8a8a8a" stroke-width="0.45"/>
<line x1="558.6" y1="157" x2="558.6" y2="161.5" stroke="#8a8a8a" stroke-width="0.45"/>
<line x1="560.4" y1="157" x2="560.4" y2="161.5" stroke="#8a8a8a" stroke-width="0.45"/>
<line x1="562.3" y1="157" x2="562.3" y2="161.5" stroke="#8a8a8a" stroke-width="0.45"/>
<line x1="564.2" y1="157" x2="564.2" y2="161.5" stroke="#8a8a8a" stroke-width="0.45"/>
<line x1="566.1" y1="157" x2="566.1" y2="161.5" stroke="#8a8a8a" stroke-width="0.45"/>
<line x1="568.0" y1="157" x2="568.0" y2="161.5" stroke="#8a8a8a" stroke-width="0.45"/>
<line x1="569.8" y1="157" x2="569.8" y2="161.5" stroke="#8a8a8a" stroke-width="0.45"/>
<line x1="571.7" y1="157" x2="571.7" y2="161.5" stroke="#8a8a8a" stroke-width="0.45"/>
<line x1="573.6" y1="157" x2="573.6" y2="161.5" stroke="#8a8a8a" stroke-width="0.45"/>
<line x1="575.5" y1="157" x2="575.5" y2="161.5" stroke="#8a8a8a" stroke-width="0.45"/>
<line x1="577.4" y1="157" x2="577.4" y2="161.5" stroke="#8a8a8a" stroke-width="0.45"/>
<line x1="579.2" y1="157" x2="579.2" y2="161.5" stroke="#8a8a8a" stroke-width="0.45"/>
<line x1="581.1" y1="157" x2="581.1" y2="161.5" stroke="#8a8a8a" stroke-width="0.45"/>
<line x1="583.0" y1="157" x2="583.0" y2="161.5" stroke="#8a8a8a" stroke-width="0.45"/>
<line x1="584.9" y1="157" x2="584.9" y2="161.5" stroke="#8a8a8a" stroke-width="0.45"/>
<line x1="586.8" y1="157" x2="586.8" y2="161.5" stroke="#8a8a8a" stroke-width="0.45"/>
<line x1="588.6" y1="157" x2="588.6" y2="161.5" stroke="#8a8a8a" stroke-width="0.45"/>
<line x1="590.5" y1="157" x2="590.5" y2="161.5" stroke="#8a8a8a" stroke-width="0.45"/>
<line x1="592.4" y1="157" x2="592.4" y2="161.5" stroke="#8a8a8a" stroke-width="0.45"/>
<line x1="594.3" y1="157" x2="594.3" y2="161.5" stroke="#8a8a8a" stroke-width="0.45"/>
<line x1="596.2" y1="157" x2="596.2" y2="161.5" stroke="#8a8a8a" stroke-width="0.45"/>
<line x1="598.0" y1="157" x2="598.0" y2="161.5" stroke="#8a8a8a" stroke-width="0.45"/>
<line x1="599.9" y1="157" x2="599.9" y2="161.5" stroke="#8a8a8a" stroke-width="0.45"/>
<line x1="601.8" y1="157" x2="601.8" y2="161.5" stroke="#8a8a8a" stroke-width="0.45"/>
<line x1="603.7" y1="157" x2="603.7" y2="161.5" stroke="#8a8a8a" stroke-width="0.45"/>
<line x1="605.6" y1="157" x2="605.6" y2="161.5" stroke="#8a8a8a" stroke-width="0.45"/>
<line x1="607.4" y1="157" x2="607.4" y2="161.5" stroke="#8a8a8a" stroke-width="0.45"/>
<line x1="609.3" y1="157" x2="609.3" y2="161.5" stroke="#8a8a8a" stroke-width="0.45"/>
<line x1="611.2" y1="157" x2="611.2" y2="161.5" stroke="#8a8a8a" stroke-width="0.45"/>
<line x1="613.1" y1="157" x2="613.1" y2="161.5" stroke="#8a8a8a" stroke-width="0.45"/>
<line x1="615.0" y1="157" x2="615.0" y2="161.5" stroke="#8a8a8a" stroke-width="0.45"/>
<line x1="616.8" y1="157" x2="616.8" y2="161.5" stroke="#8a8a8a" stroke-width="0.45"/>
<line x1="618.7" y1="157" x2="618.7" y2="161.5" stroke="#8a8a8a" stroke-width="0.45"/>
<line x1="620.6" y1="157" x2="620.6" y2="161.5" stroke="#8a8a8a" stroke-width="0.45"/>
<line x1="622.5" y1="157" x2="622.5" y2="161.5" stroke="#8a8a8a" stroke-width="0.45"/>
<line x1="624.4" y1="157" x2="624.4" y2="161.5" stroke="#8a8a8a" stroke-width="0.45"/>
<line x1="626.2" y1="157" x2="626.2" y2="161.5" stroke="#8a8a8a" stroke-width="0.45"/>
<line x1="628.1" y1="157" x2="628.1" y2="161.5" stroke="#8a8a8a" stroke-width="0.45"/>
<line x1="630.0" y1="157" x2="630.0" y2="161.5" stroke="#8a8a8a" stroke-width="0.45"/>
<line x1="631.9" y1="157" x2="631.9" y2="161.5" stroke="#8a8a8a" stroke-width="0.45"/>
<line x1="633.8" y1="157" x2="633.8" y2="161.5" stroke="#8a8a8a" stroke-width="0.45"/>
<line x1="635.6" y1="157" x2="635.6" y2="161.5" stroke="#8a8a8a" stroke-width="0.45"/>
<line x1="395.8" y1="155.5" x2="395.8" y2="163.3" stroke="#555" stroke-width="0.7"/>
<line x1="414.6" y1="155.5" x2="414.6" y2="163.3" stroke="#555" stroke-width="0.7"/>
<line x1="433.4" y1="155.5" x2="433.4" y2="163.3" stroke="#555" stroke-width="0.7"/>
<line x1="452.2" y1="155.5" x2="452.2" y2="163.3" stroke="#555" stroke-width="0.7"/>
<line x1="471.0" y1="155.5" x2="471.0" y2="163.3" stroke="#555" stroke-width="0.7"/>
<line x1="489.8" y1="155.5" x2="489.8" y2="163.3" stroke="#555" stroke-width="0.7"/>
<line x1="508.6" y1="155.5" x2="508.6" y2="163.3" stroke="#555" stroke-width="0.7"/>
<line x1="527.4" y1="155.5" x2="527.4" y2="163.3" stroke="#555" stroke-width="0.7"/>
<line x1="546.2" y1="155.5" x2="546.2" y2="163.3" stroke="#555" stroke-width="0.7"/>
<line x1="565.0" y1="155.5" x2="565.0" y2="163.3" stroke="#555" stroke-width="0.7"/>
<line x1="583.8" y1="155.5" x2="583.8" y2="163.3" stroke="#555" stroke-width="0.7"/>
<line x1="602.6" y1="155.5" x2="602.6" y2="163.3" stroke="#555" stroke-width="0.7"/>
<line x1="621.4" y1="155.5" x2="621.4" y2="163.3" stroke="#555" stroke-width="0.7"/>
<text transform="translate(395.4,147.4) rotate(180)" font-size="6.2" font-weight="bold" text-anchor="middle" fill="#222" opacity="0.85" font-family="Liberation Sans, sans-serif">17</text>
<text transform="translate(414.0,147.4) rotate(180)" font-size="6.2" font-weight="bold" text-anchor="middle" fill="#222" opacity="0.85" font-family="Liberation Sans, sans-serif">16</text>
<text transform="translate(432.6,147.4) rotate(180)" font-size="6.2" font-weight="bold" text-anchor="middle" fill="#222" opacity="0.85" font-family="Liberation Sans, sans-serif">15</text>
<text transform="translate(451.1,147.4) rotate(180)" font-size="6.2" font-weight="bold" text-anchor="middle" fill="#222" opacity="0.85" font-family="Liberation Sans, sans-serif">14</text>
<text transform="translate(469.6,147.4) rotate(180)" font-size="6.2" font-weight="bold" text-anchor="middle" fill="#222" opacity="0.85" font-family="Liberation Sans, sans-serif">13</text>
<text transform="translate(488.2,147.4) rotate(180)" font-size="6.2" font-weight="bold" text-anchor="middle" fill="#222" opacity="0.85" font-family="Liberation Sans, sans-serif">12</text>
<text transform="translate(506.8,147.4) rotate(180)" font-size="6.2" font-weight="bold" text-anchor="middle" fill="#222" opacity="0.85" font-family="Liberation Sans, sans-serif">11</text>
<text transform="translate(525.3,147.4) rotate(180)" font-size="6.2" font-weight="bold" text-anchor="middle" fill="#222" opacity="0.85" font-family="Liberation Sans, sans-serif">10</text>
<text transform="translate(543.9,147.4) rotate(180)" font-size="6.2" font-weight="bold" text-anchor="middle" fill="#222" opacity="0.85" font-family="Liberation Sans, sans-serif">9</text>
<text transform="translate(562.4,147.4) rotate(180)" font-size="6.2" font-weight="bold" text-anchor="middle" fill="#222" opacity="0.85" font-family="Liberation Sans, sans-serif">8</text>
<text transform="translate(581.0,147.4) rotate(180)" font-size="6.2" font-weight="bold" text-anchor="middle" fill="#222" opacity="0.85" font-family="Liberation Sans, sans-serif">7</text>
<text transform="translate(599.5,147.4) rotate(180)" font-size="6.2" font-weight="bold" text-anchor="middle" fill="#222" opacity="0.85" font-family="Liberation Sans, sans-serif">6</text>
<text transform="translate(618.0,147.4) rotate(180)" font-size="6.2" font-weight="bold" text-anchor="middle" fill="#222" opacity="0.85" font-family="Liberation Sans, sans-serif">5</text>
<text transform="translate(636.6,147.4) rotate(180)" font-size="6.2" font-weight="bold" text-anchor="middle" fill="#222" opacity="0.85" font-family="Liberation Sans, sans-serif">4</text>
<rect x="393.6" y="163.7" width="243.29999999999995" height="56.70000000000002" fill="url(#bgL)"/>
<ellipse cx="440.5" cy="198" rx="18" ry="20" fill="#96969e" opacity="0.7" filter="url(#b2)"/>
<ellipse cx="504.5" cy="195" rx="15" ry="17" fill="#96969e" opacity="0.7" filter="url(#b2)"/>
<ellipse cx="572.5" cy="196" rx="13" ry="14" fill="#96969e" opacity="0.7" filter="url(#b2)"/>
<ellipse cx="617.5" cy="197" rx="15" ry="11" fill="#96969e" opacity="0.7" filter="url(#b2)"/>
<path d="M418.5,184.3 C419.9,182.1 422.4,179.1 425.1,177.7 C427.8,176.3 431.8,175.7 434.6,175.8 C437.5,176.0 440.0,177.0 442.2,178.6 C444.4,180.2 446.5,182.5 447.9,185.3 C449.2,188.2 450.1,192.4 450.3,195.7 C450.5,199.0 450.0,202.5 448.8,205.2 C447.6,207.9 445.3,210.4 443.1,211.9 C440.9,213.4 438.2,214.2 435.5,214.3 C432.8,214.5 429.5,213.8 427.0,212.8 C424.5,211.8 422.1,210.3 420.4,208.1 C418.7,205.9 417.2,202.3 416.6,199.5 C416.0,196.7 416.3,193.5 416.6,191.0 C416.9,188.5 417.1,186.5 418.5,184.3Z" fill="url(#t1)" filter="url(#b05)"/>
<path d="M484.9,190.0 C486.0,187.5 488.7,183.7 490.6,181.5 C492.5,179.3 494.1,177.6 496.3,176.7 C498.5,175.8 501.7,175.3 503.9,175.8 C506.1,176.3 508.0,177.6 509.5,179.6 C511.0,181.6 512.5,185.1 513.0,188.1 C513.5,191.1 513.1,194.8 512.4,197.6 C511.7,200.4 510.5,203.3 508.6,205.2 C506.7,207.1 503.7,208.5 501.0,209.0 C498.3,209.5 494.9,209.0 492.5,208.1 C490.1,207.2 488.2,205.2 486.8,203.3 C485.4,201.4 484.2,198.9 483.9,196.7 C483.6,194.5 483.8,192.5 484.9,190.0Z" fill="url(#t2)" filter="url(#b05)"/>
<path d="M554.0,182.0 C554.9,180.5 557.2,179.2 559.0,179.0 C560.8,178.8 562.7,179.8 565.0,181.0 C567.3,182.2 570.8,184.3 573.0,186.0 C575.2,187.7 577.7,188.7 578.0,191.0 C578.3,193.3 576.8,197.3 575.0,200.0 C573.2,202.7 569.2,205.9 567.0,207.0 C564.8,208.1 563.7,208.2 562.0,206.5 C560.3,204.8 558.4,200.1 557.0,197.0 C555.6,193.9 554.0,190.5 553.5,188.0 C553.0,185.5 553.1,183.5 554.0,182.0Z" fill="url(#t3)" filter="url(#b05)"/>
<ellipse cx="612" cy="193.3" rx="14.2" ry="10.6" fill="url(#t4)" filter="url(#b05)"/>
<clipPath id="tc1"><path d="M418.5,184.3 C419.9,182.1 422.4,179.1 425.1,177.7 C427.8,176.3 431.8,175.7 434.6,175.8 C437.5,176.0 440.0,177.0 442.2,178.6 C444.4,180.2 446.5,182.5 447.9,185.3 C449.2,188.2 450.1,192.4 450.3,195.7 C450.5,199.0 450.0,202.5 448.8,205.2 C447.6,207.9 445.3,210.4 443.1,211.9 C440.9,213.4 438.2,214.2 435.5,214.3 C432.8,214.5 429.5,213.8 427.0,212.8 C424.5,211.8 422.1,210.3 420.4,208.1 C418.7,205.9 417.2,202.3 416.6,199.5 C416.0,196.7 416.3,193.5 416.6,191.0 C416.9,188.5 417.1,186.5 418.5,184.3Z"/></clipPath><clipPath id="tc2"><path d="M484.9,190.0 C486.0,187.5 488.7,183.7 490.6,181.5 C492.5,179.3 494.1,177.6 496.3,176.7 C498.5,175.8 501.7,175.3 503.9,175.8 C506.1,176.3 508.0,177.6 509.5,179.6 C511.0,181.6 512.5,185.1 513.0,188.1 C513.5,191.1 513.1,194.8 512.4,197.6 C511.7,200.4 510.5,203.3 508.6,205.2 C506.7,207.1 503.7,208.5 501.0,209.0 C498.3,209.5 494.9,209.0 492.5,208.1 C490.1,207.2 488.2,205.2 486.8,203.3 C485.4,201.4 484.2,198.9 483.9,196.7 C483.6,194.5 483.8,192.5 484.9,190.0Z"/></clipPath>
<g clip-path="url(#tc1)">
<ellipse cx="423.9" cy="183.9" rx="2.9" ry="1.7" fill="#c8a878" opacity="0.45" filter="url(#b05)"/>
<ellipse cx="435.2" cy="193.9" rx="2.6" ry="1.1" fill="#dcc898" opacity="0.45" filter="url(#b05)"/>
<ellipse cx="438.5" cy="197.0" rx="2.0" ry="1.1" fill="#c06a48" opacity="0.45" filter="url(#b05)"/>
<ellipse cx="422.5" cy="191.3" rx="2.5" ry="1.3" fill="#b44a30" opacity="0.45" filter="url(#b05)"/>
<ellipse cx="439.6" cy="210.9" rx="1.5" ry="1.8" fill="#dcc898" opacity="0.45" filter="url(#b05)"/>
<ellipse cx="441.2" cy="205.9" rx="1.4" ry="2.0" fill="#d8c48e" opacity="0.45" filter="url(#b05)"/>
<ellipse cx="447.2" cy="195.5" rx="2.8" ry="1.1" fill="#d8c48e" opacity="0.45" filter="url(#b05)"/>
<ellipse cx="444.2" cy="191.9" rx="2.3" ry="1.0" fill="#c8a878" opacity="0.45" filter="url(#b05)"/>
<ellipse cx="439.4" cy="193.6" rx="1.7" ry="1.2" fill="#dcc898" opacity="0.45" filter="url(#b05)"/>
<ellipse cx="436.0" cy="200.2" rx="1.8" ry="1.8" fill="#b44a30" opacity="0.45" filter="url(#b05)"/>
<ellipse cx="423.4" cy="187.8" rx="1.8" ry="1.2" fill="#c8a878" opacity="0.45" filter="url(#b05)"/>
<ellipse cx="437.8" cy="183.9" rx="1.5" ry="1.4" fill="#c06a48" opacity="0.45" filter="url(#b05)"/>
<ellipse cx="436.7" cy="202.5" rx="2.9" ry="1.2" fill="#b44a30" opacity="0.45" filter="url(#b05)"/>
<ellipse cx="424.3" cy="202.5" rx="1.9" ry="1.5" fill="#dcc898" opacity="0.45" filter="url(#b05)"/>
<ellipse cx="436.0" cy="195.2" rx="2.3" ry="1.9" fill="#d8c48e" opacity="0.45" filter="url(#b05)"/>
<ellipse cx="438.6" cy="200.6" rx="1.8" ry="1.2" fill="#dcc898" opacity="0.45" filter="url(#b05)"/>
<ellipse cx="419.9" cy="192.5" rx="2.3" ry="1.7" fill="#b44a30" opacity="0.45" filter="url(#b05)"/>
<ellipse cx="428.3" cy="201.8" rx="2.9" ry="0.9" fill="#dcc898" opacity="0.45" filter="url(#b05)"/>
<ellipse cx="427.1" cy="206.9" rx="1.8" ry="1.9" fill="#d8c48e" opacity="0.45" filter="url(#b05)"/>
<ellipse cx="425.9" cy="192.4" rx="1.8" ry="1.8" fill="#c06a48" opacity="0.45" filter="url(#b05)"/>
<ellipse cx="424.3" cy="183.8" rx="3.0" ry="1.0" fill="#c06a48" opacity="0.45" filter="url(#b05)"/>
<ellipse cx="448.6" cy="200.7" rx="2.9" ry="0.8" fill="#a84028" opacity="0.45" filter="url(#b05)"/>
<ellipse cx="433.0" cy="185.0" rx="2.0" ry="1.3" fill="#c06a48" opacity="0.45" filter="url(#b05)"/>
<ellipse cx="447.8" cy="201.2" rx="2.6" ry="1.2" fill="#b44a30" opacity="0.45" filter="url(#b05)"/>
<ellipse cx="437.7" cy="213.1" rx="2.9" ry="1.6" fill="#a84028" opacity="0.45" filter="url(#b05)"/>
<ellipse cx="434.5" cy="190.2" rx="1.9" ry="0.9" fill="#dcc898" opacity="0.45" filter="url(#b05)"/>
<ellipse cx="429.2" cy="197.8" rx="2.7" ry="2.0" fill="#a84028" opacity="0.45" filter="url(#b05)"/>
<ellipse cx="423.5" cy="198.6" rx="1.8" ry="1.1" fill="#c8a878" opacity="0.45" filter="url(#b05)"/>
<ellipse cx="418.7" cy="198.3" rx="1.9" ry="2.0" fill="#b44a30" opacity="0.45" filter="url(#b05)"/>
<ellipse cx="445.2" cy="191.4" rx="2.8" ry="1.0" fill="#dcc898" opacity="0.45" filter="url(#b05)"/>
<ellipse cx="422.8" cy="195.7" rx="2.8" ry="1.2" fill="#a84028" opacity="0.45" filter="url(#b05)"/>
<ellipse cx="436.6" cy="179.1" rx="2.3" ry="0.8" fill="#c8a878" opacity="0.45" filter="url(#b05)"/>
<ellipse cx="429.6" cy="207.6" rx="1.7" ry="1.4" fill="#c8a878" opacity="0.45" filter="url(#b05)"/>
<ellipse cx="435.1" cy="179.9" rx="2.9" ry="1.2" fill="#c06a48" opacity="0.45" filter="url(#b05)"/>
<ellipse cx="439.8" cy="210.6" rx="2.2" ry="1.1" fill="#dcc898" opacity="0.45" filter="url(#b05)"/>
<ellipse cx="428.7" cy="184.5" rx="2.4" ry="1.8" fill="#a84028" opacity="0.45" filter="url(#b05)"/>
<ellipse cx="426.4" cy="206.9" rx="2.9" ry="1.3" fill="#c8a878" opacity="0.45" filter="url(#b05)"/>
<ellipse cx="438.4" cy="191.9" rx="2.0" ry="1.2" fill="#c8a878" opacity="0.45" filter="url(#b05)"/>
<ellipse cx="431.0" cy="200.1" rx="1.6" ry="1.2" fill="#d8c48e" opacity="0.45" filter="url(#b05)"/>
<ellipse cx="438.1" cy="187.9" rx="2.5" ry="1.7" fill="#b44a30" opacity="0.45" filter="url(#b05)"/>
</g>
<g clip-path="url(#tc2)">
<ellipse cx="504.2" cy="205.4" rx="2.1" ry="1.9" fill="#c8a878" opacity="0.45" filter="url(#b05)"/>
<ellipse cx="495.3" cy="203.8" rx="2.5" ry="0.8" fill="#c87850" opacity="0.45" filter="url(#b05)"/>
<ellipse cx="503.1" cy="201.3" rx="1.6" ry="1.6" fill="#dcc490" opacity="0.45" filter="url(#b05)"/>
<ellipse cx="497.1" cy="190.6" rx="3.0" ry="1.0" fill="#e0cc9c" opacity="0.45" filter="url(#b05)"/>
<ellipse cx="501.4" cy="189.6" rx="2.1" ry="1.5" fill="#dcc490" opacity="0.45" filter="url(#b05)"/>
<ellipse cx="492.1" cy="197.1" rx="1.3" ry="1.0" fill="#c8a878" opacity="0.45" filter="url(#b05)"/>
<ellipse cx="496.9" cy="183.3" rx="1.9" ry="1.1" fill="#c87850" opacity="0.45" filter="url(#b05)"/>
<ellipse cx="495.3" cy="195.0" rx="1.9" ry="0.8" fill="#c8a878" opacity="0.45" filter="url(#b05)"/>
<ellipse cx="495.9" cy="189.8" rx="2.1" ry="1.9" fill="#c8a878" opacity="0.45" filter="url(#b05)"/>
<ellipse cx="496.5" cy="201.2" rx="2.0" ry="1.8" fill="#dcc490" opacity="0.45" filter="url(#b05)"/>
<ellipse cx="493.7" cy="185.2" rx="1.5" ry="1.3" fill="#dcc490" opacity="0.45" filter="url(#b05)"/>
<ellipse cx="493.2" cy="193.4" rx="2.3" ry="1.2" fill="#dcc490" opacity="0.45" filter="url(#b05)"/>
<ellipse cx="498.7" cy="192.3" rx="1.8" ry="1.9" fill="#b85238" opacity="0.45" filter="url(#b05)"/>
<ellipse cx="491.6" cy="190.4" rx="1.9" ry="1.3" fill="#c8a878" opacity="0.45" filter="url(#b05)"/>
<ellipse cx="499.5" cy="200.5" rx="1.9" ry="1.8" fill="#e0cc9c" opacity="0.45" filter="url(#b05)"/>
<ellipse cx="504.0" cy="203.0" rx="2.1" ry="1.3" fill="#c87850" opacity="0.45" filter="url(#b05)"/>
<ellipse cx="492.7" cy="207.8" rx="2.9" ry="1.0" fill="#e0cc9c" opacity="0.45" filter="url(#b05)"/>
<ellipse cx="509.3" cy="194.5" rx="1.6" ry="0.8" fill="#e0cc9c" opacity="0.45" filter="url(#b05)"/>
<ellipse cx="503.7" cy="199.8" rx="2.2" ry="1.1" fill="#e0cc9c" opacity="0.45" filter="url(#b05)"/>
<ellipse cx="509.6" cy="186.7" rx="2.1" ry="1.8" fill="#dcc490" opacity="0.45" filter="url(#b05)"/>
<ellipse cx="497.3" cy="184.6" rx="2.3" ry="1.4" fill="#e0cc9c" opacity="0.45" filter="url(#b05)"/>
<ellipse cx="492.2" cy="182.6" rx="1.2" ry="1.0" fill="#b85238" opacity="0.45" filter="url(#b05)"/>
<ellipse cx="496.2" cy="206.0" rx="1.7" ry="1.4" fill="#c8a878" opacity="0.45" filter="url(#b05)"/>
<ellipse cx="491.1" cy="194.6" rx="1.4" ry="0.8" fill="#c8a878" opacity="0.45" filter="url(#b05)"/>
<ellipse cx="488.0" cy="188.1" rx="2.8" ry="1.5" fill="#b85238" opacity="0.45" filter="url(#b05)"/>
<ellipse cx="510.5" cy="193.8" rx="2.3" ry="1.6" fill="#e0cc9c" opacity="0.45" filter="url(#b05)"/>
<ellipse cx="508.8" cy="188.7" rx="2.1" ry="1.6" fill="#e0cc9c" opacity="0.45" filter="url(#b05)"/>
<ellipse cx="496.0" cy="176.8" rx="2.7" ry="0.9" fill="#e0cc9c" opacity="0.45" filter="url(#b05)"/>
<ellipse cx="504.3" cy="180.8" rx="2.2" ry="1.6" fill="#e0cc9c" opacity="0.45" filter="url(#b05)"/>
<ellipse cx="491.7" cy="194.0" rx="2.1" ry="1.5" fill="#dcc490" opacity="0.45" filter="url(#b05)"/>
<ellipse cx="491.3" cy="192.6" rx="2.0" ry="1.4" fill="#dcc490" opacity="0.45" filter="url(#b05)"/>
<ellipse cx="509.6" cy="196.7" rx="2.7" ry="1.8" fill="#c87850" opacity="0.45" filter="url(#b05)"/>
<ellipse cx="497.7" cy="190.9" rx="3.0" ry="2.0" fill="#e0cc9c" opacity="0.45" filter="url(#b05)"/>
<ellipse cx="497.8" cy="189.8" rx="1.6" ry="1.6" fill="#b85238" opacity="0.45" filter="url(#b05)"/>
<ellipse cx="509.4" cy="188.4" rx="3.0" ry="1.6" fill="#dcc490" opacity="0.45" filter="url(#b05)"/>
<ellipse cx="493.8" cy="194.8" rx="1.9" ry="1.0" fill="#dcc490" opacity="0.45" filter="url(#b05)"/>
<ellipse cx="497.0" cy="190.7" rx="2.4" ry="1.7" fill="#b85238" opacity="0.45" filter="url(#b05)"/>
<ellipse cx="496.6" cy="204.4" rx="2.5" ry="1.9" fill="#b85238" opacity="0.45" filter="url(#b05)"/>
<ellipse cx="504.1" cy="200.2" rx="2.4" ry="1.4" fill="#c87850" opacity="0.45" filter="url(#b05)"/>
<ellipse cx="491.9" cy="203.0" rx="1.4" ry="1.2" fill="#b85238" opacity="0.45" filter="url(#b05)"/>
</g>
<ellipse cx="604.1" cy="190.4" rx="1.4" ry="1.7" fill="#e07848" opacity="0.5" filter="url(#b05)"/>
<ellipse cx="608.4" cy="190.5" rx="1.8" ry="1.1" fill="#b83418" opacity="0.5" filter="url(#b05)"/>
<ellipse cx="608.7" cy="192.7" rx="1.4" ry="1.2" fill="#e07848" opacity="0.5" filter="url(#b05)"/>
<ellipse cx="609.5" cy="194.5" rx="1.0" ry="1.1" fill="#e07848" opacity="0.5" filter="url(#b05)"/>
<ellipse cx="610.7" cy="191.3" rx="1.2" ry="1.4" fill="#d86a3a" opacity="0.5" filter="url(#b05)"/>
<ellipse cx="606.7" cy="196.2" rx="2.4" ry="0.9" fill="#e07848" opacity="0.5" filter="url(#b05)"/>
<ellipse cx="620.9" cy="194.2" rx="1.1" ry="1.0" fill="#b83418" opacity="0.5" filter="url(#b05)"/>
<ellipse cx="610.1" cy="190.0" rx="1.2" ry="1.8" fill="#e07848" opacity="0.5" filter="url(#b05)"/>
<ellipse cx="607.7" cy="193.2" rx="2.1" ry="1.2" fill="#d86a3a" opacity="0.5" filter="url(#b05)"/>
<ellipse cx="609.4" cy="200.4" rx="2.1" ry="1.6" fill="#b83418" opacity="0.5" filter="url(#b05)"/>
<ellipse cx="618.4" cy="198.4" rx="2.0" ry="1.6" fill="#b83418" opacity="0.5" filter="url(#b05)"/>
<ellipse cx="617.8" cy="192.0" rx="1.1" ry="1.8" fill="#d86a3a" opacity="0.5" filter="url(#b05)"/>
<ellipse cx="611.6" cy="188.4" rx="1.1" ry="0.8" fill="#d86a3a" opacity="0.5" filter="url(#b05)"/>
<ellipse cx="614.4" cy="197.9" rx="2.4" ry="1.5" fill="#b83418" opacity="0.5" filter="url(#b05)"/>
<ellipse cx="570.6" cy="192.0" rx="2.3" ry="1.4" fill="#b88438" opacity="0.5" filter="url(#b05)"/>
<ellipse cx="563.3" cy="197.1" rx="1.3" ry="1.5" fill="#e0c070" opacity="0.5" filter="url(#b05)"/>
<ellipse cx="562.3" cy="195.6" rx="2.3" ry="1.0" fill="#b88438" opacity="0.5" filter="url(#b05)"/>
<ellipse cx="571.0" cy="197.1" rx="2.1" ry="1.5" fill="#e0c070" opacity="0.5" filter="url(#b05)"/>
<ellipse cx="564.5" cy="192.1" rx="2.4" ry="1.2" fill="#e0c070" opacity="0.5" filter="url(#b05)"/>
<ellipse cx="563.1" cy="185.4" rx="1.7" ry="1.7" fill="#e0c070" opacity="0.5" filter="url(#b05)"/>
<ellipse cx="566.4" cy="187.5" rx="1.7" ry="1.0" fill="#e0c070" opacity="0.5" filter="url(#b05)"/>
<ellipse cx="571.9" cy="193.5" rx="1.9" ry="1.5" fill="#d8b060" opacity="0.5" filter="url(#b05)"/>
<ellipse cx="559.1" cy="197.2" rx="1.5" ry="1.1" fill="#b88438" opacity="0.5" filter="url(#b05)"/>
<ellipse cx="564.5" cy="193.4" rx="2.5" ry="1.3" fill="#e0c070" opacity="0.5" filter="url(#b05)"/>
<ellipse cx="566.9" cy="195.1" rx="1.1" ry="1.4" fill="#d8b060" opacity="0.5" filter="url(#b05)"/>
<ellipse cx="565.9" cy="191.9" rx="1.1" ry="1.6" fill="#b88438" opacity="0.5" filter="url(#b05)"/>
<path d="M498,176 L496,168" stroke="#e8e4dc" stroke-width="1.2" opacity="0.8"/>
<path d="M613,183 Q611,176 614,169" stroke="#e6e2da" stroke-width="1.5" fill="none" opacity="0.8"/>
</g>
<g>
<text transform="translate(7.80,17.20) scale(0.93,1)" font-size="21.5" text-anchor="start" fill="#111" stroke="#111" stroke-width="0.2">a</text>
<line x1="67.00" y1="27.50" x2="67.00" y2="196.10" stroke="#000" stroke-width="2" />
<line x1="62.00" y1="195.10" x2="321.50" y2="195.10" stroke="#000" stroke-width="2" />
<line x1="62.00" y1="195.10" x2="67.00" y2="195.10" stroke="#000" stroke-width="2" />
<text transform="translate(58.60,200.30) scale(1.0,1)" font-size="15.4" text-anchor="end" fill="#111"  stroke="#111" stroke-width="0.12">0</text>
<line x1="62.00" y1="139.27" x2="67.00" y2="139.27" stroke="#000" stroke-width="2" />
<text transform="translate(58.60,144.47) scale(1.0,1)" font-size="15.4" text-anchor="end" fill="#111"  stroke="#111" stroke-width="0.12">1000</text>
<line x1="62.00" y1="83.44" x2="67.00" y2="83.44" stroke="#000" stroke-width="2" />
<text transform="translate(58.60,88.64) scale(1.0,1)" font-size="15.4" text-anchor="end" fill="#111"  stroke="#111" stroke-width="0.12">2000</text>
<line x1="62.00" y1="27.61" x2="67.00" y2="27.61" stroke="#000" stroke-width="2" />
<text transform="translate(58.60,32.81) scale(1.0,1)" font-size="15.4" text-anchor="end" fill="#111"  stroke="#111" stroke-width="0.12">3000</text>
<line x1="67.00" y1="195.10" x2="67.00" y2="200.40" stroke="#000" stroke-width="2" />
<text transform="translate(64.40,214.60) scale(1.0,1)" font-size="15.4" text-anchor="middle" fill="#111"  stroke="#111" stroke-width="0.12">0</text>
<line x1="86.55" y1="195.10" x2="86.55" y2="200.40" stroke="#000" stroke-width="2" />
<text transform="translate(86.55,214.60) scale(1.0,1)" font-size="15.4" text-anchor="middle" fill="#111"  stroke="#111" stroke-width="0.12">2</text>
<line x1="106.10" y1="195.10" x2="106.10" y2="200.40" stroke="#000" stroke-width="2" />
<text transform="translate(106.10,214.60) scale(1.0,1)" font-size="15.4" text-anchor="middle" fill="#111"  stroke="#111" stroke-width="0.12">4</text>
<line x1="125.65" y1="195.10" x2="125.65" y2="200.40" stroke="#000" stroke-width="2" />
<text transform="translate(125.65,214.60) scale(1.0,1)" font-size="15.4" text-anchor="middle" fill="#111"  stroke="#111" stroke-width="0.12">6</text>
<line x1="145.20" y1="195.10" x2="145.20" y2="200.40" stroke="#000" stroke-width="2" />
<text transform="translate(145.20,214.60) scale(1.0,1)" font-size="15.4" text-anchor="middle" fill="#111"  stroke="#111" stroke-width="0.12">8</text>
<line x1="164.75" y1="195.10" x2="164.75" y2="200.40" stroke="#000" stroke-width="2" />
<text transform="translate(164.75,214.60) scale(1.0,1)" font-size="15.4" text-anchor="middle" fill="#111"  stroke="#111" stroke-width="0.12">10</text>
<line x1="184.30" y1="195.10" x2="184.30" y2="200.40" stroke="#000" stroke-width="2" />
<text transform="translate(184.30,214.60) scale(1.0,1)" font-size="15.4" text-anchor="middle" fill="#111"  stroke="#111" stroke-width="0.12">12</text>
<line x1="203.85" y1="195.10" x2="203.85" y2="200.40" stroke="#000" stroke-width="2" />
<text transform="translate(203.85,214.60) scale(1.0,1)" font-size="15.4" text-anchor="middle" fill="#111"  stroke="#111" stroke-width="0.12">14</text>
<line x1="223.40" y1="195.10" x2="223.40" y2="200.40" stroke="#000" stroke-width="2" />
<text transform="translate(223.40,214.60) scale(1.0,1)" font-size="15.4" text-anchor="middle" fill="#111"  stroke="#111" stroke-width="0.12">16</text>
<line x1="242.95" y1="195.10" x2="242.95" y2="200.40" stroke="#000" stroke-width="2" />
<text transform="translate(242.95,214.60) scale(1.0,1)" font-size="15.4" text-anchor="middle" fill="#111"  stroke="#111" stroke-width="0.12">18</text>
<line x1="262.50" y1="195.10" x2="262.50" y2="200.40" stroke="#000" stroke-width="2" />
<text transform="translate(262.50,214.60) scale(1.0,1)" font-size="15.4" text-anchor="middle" fill="#111"  stroke="#111" stroke-width="0.12">20</text>
<line x1="282.05" y1="195.10" x2="282.05" y2="200.40" stroke="#000" stroke-width="2" />
<text transform="translate(282.05,214.60) scale(1.0,1)" font-size="15.4" text-anchor="middle" fill="#111"  stroke="#111" stroke-width="0.12">22</text>
<line x1="301.60" y1="195.10" x2="301.60" y2="200.40" stroke="#000" stroke-width="2" />
<text transform="translate(301.60,214.60) scale(1.0,1)" font-size="15.4" text-anchor="middle" fill="#111"  stroke="#111" stroke-width="0.12">24</text>
<line x1="321.15" y1="195.10" x2="321.15" y2="200.40" stroke="#000" stroke-width="2" />
<text transform="translate(321.15,214.60) scale(1.0,1)" font-size="15.4" text-anchor="middle" fill="#111"  stroke="#111" stroke-width="0.12">26</text>
<text transform="translate(187.80,232.60) scale(1.02,1)" font-size="15.4" text-anchor="middle" fill="#111"  stroke="#111" stroke-width="0.12">Days</text>
<text transform="translate(14.6,110.7) rotate(-90) scale(1.02,1)" font-size="15.4" text-anchor="middle" fill="#111" stroke="#111" stroke-width="0.12">Tumor volume (mm<tspan font-size="9.5" dy="-6">3</tspan><tspan dy="6">)</tspan></text>
<polyline points="67.00,186.73 86.55,180.58 106.10,168.30 125.65,161.60 145.20,159.37 164.75,150.99 184.30,143.46 203.85,127.27 223.40,118.89 242.95,106.61 262.50,93.99 282.05,85.11 301.60,66.69" fill="none" stroke="#e60012" stroke-width="2" stroke-linejoin="miter" />
<line x1="67.00" y1="186.73" x2="67.00" y2="185.61" stroke="#e60012" stroke-width="2" />
<line x1="62.20" y1="185.61" x2="71.80" y2="185.61" stroke="#e60012" stroke-width="2.1" />
<line x1="86.55" y1="180.58" x2="86.55" y2="178.91" stroke="#e60012" stroke-width="2" />
<line x1="81.75" y1="178.91" x2="91.35" y2="178.91" stroke="#e60012" stroke-width="2.1" />
<line x1="106.10" y1="168.30" x2="106.10" y2="166.07" stroke="#e60012" stroke-width="2" />
<line x1="101.30" y1="166.07" x2="110.90" y2="166.07" stroke="#e60012" stroke-width="2.1" />
<line x1="125.65" y1="161.60" x2="125.65" y2="158.81" stroke="#e60012" stroke-width="2" />
<line x1="120.85" y1="158.81" x2="130.45" y2="158.81" stroke="#e60012" stroke-width="2.1" />
<line x1="145.20" y1="159.37" x2="145.20" y2="153.79" stroke="#e60012" stroke-width="2" />
<line x1="140.40" y1="153.79" x2="150.00" y2="153.79" stroke="#e60012" stroke-width="2.1" />
<line x1="164.75" y1="150.99" x2="164.75" y2="142.90" stroke="#e60012" stroke-width="2" />
<line x1="159.95" y1="142.90" x2="169.55" y2="142.90" stroke="#e60012" stroke-width="2.1" />
<line x1="184.30" y1="143.46" x2="184.30" y2="136.76" stroke="#e60012" stroke-width="2" />
<line x1="179.50" y1="136.76" x2="189.10" y2="136.76" stroke="#e60012" stroke-width="2.1" />
<line x1="203.85" y1="127.27" x2="203.85" y2="119.17" stroke="#e60012" stroke-width="2" />
<line x1="199.05" y1="119.17" x2="208.65" y2="119.17" stroke="#e60012" stroke-width="2.1" />
<line x1="223.40" y1="118.89" x2="223.40" y2="108.28" stroke="#e60012" stroke-width="2" />
<line x1="218.60" y1="108.28" x2="228.20" y2="108.28" stroke="#e60012" stroke-width="2.1" />
<line x1="242.95" y1="106.61" x2="242.95" y2="94.61" stroke="#e60012" stroke-width="2" />
<line x1="238.15" y1="94.61" x2="247.75" y2="94.61" stroke="#e60012" stroke-width="2.1" />
<line x1="262.50" y1="93.99" x2="262.50" y2="81.04" stroke="#e60012" stroke-width="2" />
<line x1="257.70" y1="81.04" x2="267.30" y2="81.04" stroke="#e60012" stroke-width="2.1" />
<line x1="282.05" y1="85.11" x2="282.05" y2="71.72" stroke="#e60012" stroke-width="2" />
<line x1="277.25" y1="71.72" x2="286.85" y2="71.72" stroke="#e60012" stroke-width="2.1" />
<line x1="301.60" y1="66.69" x2="301.60" y2="51.78" stroke="#e60012" stroke-width="2" />
<line x1="296.80" y1="51.78" x2="306.40" y2="51.78" stroke="#e60012" stroke-width="2.1" />
<circle cx="67.00" cy="186.73" r="5.10" fill="#e60012"/>
<circle cx="86.55" cy="180.58" r="5.10" fill="#e60012"/>
<circle cx="106.10" cy="168.30" r="5.10" fill="#e60012"/>
<circle cx="125.65" cy="161.60" r="5.10" fill="#e60012"/>
<circle cx="145.20" cy="159.37" r="5.10" fill="#e60012"/>
<circle cx="164.75" cy="150.99" r="5.10" fill="#e60012"/>
<circle cx="184.30" cy="143.46" r="5.10" fill="#e60012"/>
<circle cx="203.85" cy="127.27" r="5.10" fill="#e60012"/>
<circle cx="223.40" cy="118.89" r="5.10" fill="#e60012"/>
<circle cx="242.95" cy="106.61" r="5.10" fill="#e60012"/>
<circle cx="262.50" cy="93.99" r="5.10" fill="#e60012"/>
<circle cx="282.05" cy="85.11" r="5.10" fill="#e60012"/>
<circle cx="301.60" cy="66.69" r="5.10" fill="#e60012"/>
<polyline points="67.00,186.73 86.55,180.58 106.10,170.26 125.65,163.84 145.20,160.76 164.75,159.37 184.30,158.25 203.85,146.25 223.40,137.04 242.95,131.45 262.50,118.72 282.05,110.24 301.60,99.07" fill="none" stroke="#009944" stroke-width="2" stroke-linejoin="miter" />
<line x1="67.00" y1="186.73" x2="67.00" y2="185.61" stroke="#009944" stroke-width="2" />
<line x1="62.20" y1="185.61" x2="71.80" y2="185.61" stroke="#009944" stroke-width="2.1" />
<line x1="86.55" y1="180.58" x2="86.55" y2="178.91" stroke="#009944" stroke-width="2" />
<line x1="81.75" y1="178.91" x2="91.35" y2="178.91" stroke="#009944" stroke-width="2.1" />
<line x1="106.10" y1="170.26" x2="106.10" y2="167.74" stroke="#009944" stroke-width="2" />
<line x1="101.30" y1="167.74" x2="110.90" y2="167.74" stroke="#009944" stroke-width="2.1" />
<line x1="125.65" y1="163.84" x2="125.65" y2="159.37" stroke="#009944" stroke-width="2" />
<line x1="120.85" y1="159.37" x2="130.45" y2="159.37" stroke="#009944" stroke-width="2.1" />
<line x1="145.20" y1="160.76" x2="145.20" y2="156.02" stroke="#009944" stroke-width="2" />
<line x1="140.40" y1="156.02" x2="150.00" y2="156.02" stroke="#009944" stroke-width="2.1" />
<line x1="164.75" y1="159.37" x2="164.75" y2="154.90" stroke="#009944" stroke-width="2" />
<line x1="159.95" y1="154.90" x2="169.55" y2="154.90" stroke="#009944" stroke-width="2.1" />
<line x1="184.30" y1="158.25" x2="184.30" y2="152.67" stroke="#009944" stroke-width="2" />
<line x1="179.50" y1="152.67" x2="189.10" y2="152.67" stroke="#009944" stroke-width="2.1" />
<line x1="203.85" y1="146.25" x2="203.85" y2="138.04" stroke="#009944" stroke-width="2" />
<line x1="199.05" y1="138.04" x2="208.65" y2="138.04" stroke="#009944" stroke-width="2.1" />
<line x1="223.40" y1="137.04" x2="223.40" y2="126.15" stroke="#009944" stroke-width="2" />
<line x1="218.60" y1="126.15" x2="228.20" y2="126.15" stroke="#009944" stroke-width="2.1" />
<line x1="242.95" y1="131.45" x2="242.95" y2="119.45" stroke="#009944" stroke-width="2" />
<line x1="238.15" y1="119.45" x2="247.75" y2="119.45" stroke="#009944" stroke-width="2.1" />
<line x1="262.50" y1="118.72" x2="262.50" y2="106.05" stroke="#009944" stroke-width="2" />
<line x1="257.70" y1="106.05" x2="267.30" y2="106.05" stroke="#009944" stroke-width="2.1" />
<line x1="282.05" y1="110.24" x2="282.05" y2="97.68" stroke="#009944" stroke-width="2" />
<line x1="277.25" y1="97.68" x2="286.85" y2="97.68" stroke="#009944" stroke-width="2.1" />
<line x1="301.60" y1="99.07" x2="301.60" y2="83.66" stroke="#009944" stroke-width="2" />
<line x1="296.80" y1="83.66" x2="306.40" y2="83.66" stroke="#009944" stroke-width="2.1" />
<rect x="62.10" y="181.83" width="9.80" height="9.80" fill="#009944"/>
<rect x="81.65" y="175.68" width="9.80" height="9.80" fill="#009944"/>
<rect x="101.20" y="165.36" width="9.80" height="9.80" fill="#009944"/>
<rect x="120.75" y="158.94" width="9.80" height="9.80" fill="#009944"/>
<rect x="140.30" y="155.86" width="9.80" height="9.80" fill="#009944"/>
<rect x="159.85" y="154.47" width="9.80" height="9.80" fill="#009944"/>
<rect x="179.40" y="153.35" width="9.80" height="9.80" fill="#009944"/>
<rect x="198.95" y="141.35" width="9.80" height="9.80" fill="#009944"/>
<rect x="218.50" y="132.14" width="9.80" height="9.80" fill="#009944"/>
<rect x="238.05" y="126.55" width="9.80" height="9.80" fill="#009944"/>
<rect x="257.60" y="113.82" width="9.80" height="9.80" fill="#009944"/>
<rect x="277.15" y="105.34" width="9.80" height="9.80" fill="#009944"/>
<rect x="296.70" y="94.17" width="9.80" height="9.80" fill="#009944"/>
<polyline points="67.00,186.73 86.55,183.65 106.10,179.19 125.65,176.96 145.20,175.00 164.75,169.14 184.30,164.11 203.85,161.32 223.40,159.37 242.95,152.11 262.50,138.71 282.05,131.17 301.60,125.87" fill="none" stroke="#1d2088" stroke-width="2" stroke-linejoin="miter" />
<line x1="67.00" y1="186.73" x2="67.00" y2="185.61" stroke="#1d2088" stroke-width="2" />
<line x1="62.20" y1="185.61" x2="71.80" y2="185.61" stroke="#1d2088" stroke-width="2.1" />
<line x1="86.55" y1="183.65" x2="86.55" y2="182.26" stroke="#1d2088" stroke-width="2" />
<line x1="81.75" y1="182.26" x2="91.35" y2="182.26" stroke="#1d2088" stroke-width="2.1" />
<line x1="106.10" y1="179.19" x2="106.10" y2="177.79" stroke="#1d2088" stroke-width="2" />
<line x1="101.30" y1="177.79" x2="110.90" y2="177.79" stroke="#1d2088" stroke-width="2.1" />
<line x1="125.65" y1="176.96" x2="125.65" y2="174.44" stroke="#1d2088" stroke-width="2" />
<line x1="120.85" y1="174.44" x2="130.45" y2="174.44" stroke="#1d2088" stroke-width="2.1" />
<line x1="145.20" y1="175.00" x2="145.20" y2="171.65" stroke="#1d2088" stroke-width="2" />
<line x1="140.40" y1="171.65" x2="150.00" y2="171.65" stroke="#1d2088" stroke-width="2.1" />
<line x1="164.75" y1="169.14" x2="164.75" y2="163.84" stroke="#1d2088" stroke-width="2" />
<line x1="159.95" y1="163.84" x2="169.55" y2="163.84" stroke="#1d2088" stroke-width="2.1" />
<line x1="184.30" y1="164.11" x2="184.30" y2="155.46" stroke="#1d2088" stroke-width="2" />
<line x1="179.50" y1="155.46" x2="189.10" y2="155.46" stroke="#1d2088" stroke-width="2.1" />
<line x1="203.85" y1="161.32" x2="203.85" y2="150.99" stroke="#1d2088" stroke-width="2" />
<line x1="199.05" y1="150.99" x2="208.65" y2="150.99" stroke="#1d2088" stroke-width="2.1" />
<line x1="223.40" y1="159.37" x2="223.40" y2="147.64" stroke="#1d2088" stroke-width="2" />
<line x1="218.60" y1="147.64" x2="228.20" y2="147.64" stroke="#1d2088" stroke-width="2.1" />
<line x1="242.95" y1="152.11" x2="242.95" y2="133.69" stroke="#1d2088" stroke-width="2" />
<line x1="238.15" y1="133.69" x2="247.75" y2="133.69" stroke="#1d2088" stroke-width="2.1" />
<line x1="262.50" y1="138.71" x2="262.50" y2="122.52" stroke="#1d2088" stroke-width="2" />
<line x1="257.70" y1="122.52" x2="267.30" y2="122.52" stroke="#1d2088" stroke-width="2.1" />
<line x1="282.05" y1="131.17" x2="282.05" y2="119.12" stroke="#1d2088" stroke-width="2" />
<line x1="277.25" y1="119.12" x2="286.85" y2="119.12" stroke="#1d2088" stroke-width="2.1" />
<line x1="301.60" y1="125.87" x2="301.60" y2="110.63" stroke="#1d2088" stroke-width="2" />
<line x1="296.80" y1="110.63" x2="306.40" y2="110.63" stroke="#1d2088" stroke-width="2.1" />
<polygon points="67.00,181.74 72.40,190.81 61.60,190.81" fill="#1d2088"/>
<polygon points="86.55,178.67 91.95,187.74 81.15,187.74" fill="#1d2088"/>
<polygon points="106.10,174.20 111.50,183.27 100.70,183.27" fill="#1d2088"/>
<polygon points="125.65,171.97 131.05,181.04 120.25,181.04" fill="#1d2088"/>
<polygon points="145.20,170.01 150.60,179.08 139.80,179.08" fill="#1d2088"/>
<polygon points="164.75,164.15 170.15,173.22 159.35,173.22" fill="#1d2088"/>
<polygon points="184.30,159.12 189.70,168.20 178.90,168.20" fill="#1d2088"/>
<polygon points="203.85,156.33 209.25,165.41 198.45,165.41" fill="#1d2088"/>
<polygon points="223.40,154.38 228.80,163.45 218.00,163.45" fill="#1d2088"/>
<polygon points="242.95,147.12 248.35,156.19 237.55,156.19" fill="#1d2088"/>
<polygon points="262.50,133.72 267.90,142.79 257.10,142.79" fill="#1d2088"/>
<polygon points="282.05,126.19 287.45,135.26 276.65,135.26" fill="#1d2088"/>
<polygon points="301.60,120.88 307.00,129.95 296.20,129.95" fill="#1d2088"/>
<polyline points="67.00,186.73 86.55,180.58 106.10,173.88 125.65,171.09 145.20,169.14 164.75,167.74 184.30,166.63 203.85,166.63 223.40,164.39 242.95,161.88 262.50,157.97 282.05,156.02 301.60,150.99" fill="none" stroke="#000000" stroke-width="2" stroke-linejoin="miter" />
<line x1="67.00" y1="186.73" x2="67.00" y2="185.61" stroke="#000000" stroke-width="2" />
<line x1="62.20" y1="185.61" x2="71.80" y2="185.61" stroke="#000000" stroke-width="2.1" />
<line x1="86.55" y1="180.58" x2="86.55" y2="178.91" stroke="#000000" stroke-width="2" />
<line x1="81.75" y1="178.91" x2="91.35" y2="178.91" stroke="#000000" stroke-width="2.1" />
<line x1="106.10" y1="173.88" x2="106.10" y2="169.98" stroke="#000000" stroke-width="2" />
<line x1="101.30" y1="169.98" x2="110.90" y2="169.98" stroke="#000000" stroke-width="2.1" />
<line x1="125.65" y1="171.09" x2="125.65" y2="167.19" stroke="#000000" stroke-width="2" />
<line x1="120.85" y1="167.19" x2="130.45" y2="167.19" stroke="#000000" stroke-width="2.1" />
<line x1="145.20" y1="169.14" x2="145.20" y2="163.84" stroke="#000000" stroke-width="2" />
<line x1="140.40" y1="163.84" x2="150.00" y2="163.84" stroke="#000000" stroke-width="2.1" />
<line x1="164.75" y1="167.74" x2="164.75" y2="161.60" stroke="#000000" stroke-width="2" />
<line x1="159.95" y1="161.60" x2="169.55" y2="161.60" stroke="#000000" stroke-width="2.1" />
<line x1="184.30" y1="166.63" x2="184.30" y2="159.37" stroke="#000000" stroke-width="2" />
<line x1="179.50" y1="159.37" x2="189.10" y2="159.37" stroke="#000000" stroke-width="2.1" />
<line x1="203.85" y1="166.63" x2="203.85" y2="156.02" stroke="#000000" stroke-width="2" />
<line x1="199.05" y1="156.02" x2="208.65" y2="156.02" stroke="#000000" stroke-width="2.1" />
<line x1="223.40" y1="164.39" x2="223.40" y2="151.55" stroke="#000000" stroke-width="2" />
<line x1="218.60" y1="151.55" x2="228.20" y2="151.55" stroke="#000000" stroke-width="2.1" />
<line x1="242.95" y1="161.88" x2="242.95" y2="147.37" stroke="#000000" stroke-width="2" />
<line x1="238.15" y1="147.37" x2="247.75" y2="147.37" stroke="#000000" stroke-width="2.1" />
<line x1="262.50" y1="157.97" x2="262.50" y2="145.69" stroke="#000000" stroke-width="2" />
<line x1="257.70" y1="145.69" x2="267.30" y2="145.69" stroke="#000000" stroke-width="2.1" />
<line x1="282.05" y1="156.02" x2="282.05" y2="143.46" stroke="#000000" stroke-width="2" />
<line x1="277.25" y1="143.46" x2="286.85" y2="143.46" stroke="#000000" stroke-width="2.1" />
<line x1="301.60" y1="150.99" x2="301.60" y2="138.15" stroke="#000000" stroke-width="2" />
<line x1="296.80" y1="138.15" x2="306.40" y2="138.15" stroke="#000000" stroke-width="2.1" />
<polygon points="67.00,192.07 72.40,182.35 61.60,182.35" fill="#000000"/>
<polygon points="86.55,185.93 91.95,176.21 81.15,176.21" fill="#000000"/>
<polygon points="106.10,179.23 111.50,169.51 100.70,169.51" fill="#000000"/>
<polygon points="125.65,176.44 131.05,166.72 120.25,166.72" fill="#000000"/>
<polygon points="145.20,174.49 150.60,164.77 139.80,164.77" fill="#000000"/>
<polygon points="164.75,173.09 170.15,163.37 159.35,163.37" fill="#000000"/>
<polygon points="184.30,171.97 189.70,162.25 178.90,162.25" fill="#000000"/>
<polygon points="203.85,171.97 209.25,162.25 198.45,162.25" fill="#000000"/>
<polygon points="223.40,169.74 228.80,160.02 218.00,160.02" fill="#000000"/>
<polygon points="242.95,167.23 248.35,157.51 237.55,157.51" fill="#000000"/>
<polygon points="262.50,163.32 267.90,153.60 257.10,153.60" fill="#000000"/>
<polygon points="282.05,161.37 287.45,151.65 276.65,151.65" fill="#000000"/>
<polygon points="301.60,156.34 307.00,146.62 296.20,146.62" fill="#000000"/>
<line x1="84.40" y1="31.30" x2="102.80" y2="31.30" stroke="#e60012" stroke-width="2" />
<circle cx="93.70" cy="31.30" r="5.10" fill="#e60012"/>
<text transform="translate(107.00,36.60) scale(1.02,1)" font-size="15.4" text-anchor="start" fill="#111"  stroke="#111" stroke-width="0.12">Control</text>
<line x1="84.40" y1="50.80" x2="102.80" y2="50.80" stroke="#009944" stroke-width="2" />
<rect x="88.80" y="45.90" width="9.80" height="9.80" fill="#009944"/>
<text transform="translate(107.00,56.10) scale(1.02,1)" font-size="15.4" text-anchor="start" fill="#111"  stroke="#111" stroke-width="0.12">IR</text>
<line x1="84.40" y1="70.30" x2="102.80" y2="70.30" stroke="#1d2088" stroke-width="2" />
<polygon points="93.70,65.31 99.10,74.38 88.30,74.38" fill="#1d2088"/>
<text transform="translate(107.00,75.60) scale(1.02,1)" font-size="15.4" text-anchor="start" fill="#111"  stroke="#111" stroke-width="0.12">rh-Endo</text>
<line x1="84.40" y1="89.80" x2="102.80" y2="89.80" stroke="#000000" stroke-width="2" />
<polygon points="93.70,95.15 99.10,85.43 88.30,85.43" fill="#000000"/>
<text transform="translate(107.00,95.10) scale(1.02,1)" font-size="15.4" text-anchor="start" fill="#111"  stroke="#111" stroke-width="0.12">rh-Endo+IR</text>
<polygon points="314.40,96.70 315.17,98.75 317.35,98.84 315.64,100.20 316.22,102.31 314.40,101.10 312.58,102.31 313.16,100.20 311.45,98.84 313.63,98.75" fill="#333"/>
<polygon points="321.40,96.70 322.17,98.75 324.35,98.84 322.64,100.20 323.22,102.31 321.40,101.10 319.58,102.31 320.16,100.20 318.45,98.84 320.63,98.75" fill="#333"/>
<polygon points="314.40,122.50 315.17,124.55 317.35,124.64 315.64,126.00 316.22,128.11 314.40,126.90 312.58,128.11 313.16,126.00 311.45,124.64 313.63,124.55" fill="#333"/>
<polygon points="321.40,122.50 322.17,124.55 324.35,124.64 322.64,126.00 323.22,128.11 321.40,126.90 319.58,128.11 320.16,126.00 318.45,124.64 320.63,124.55" fill="#333"/>
<polygon points="314.40,146.20 315.17,148.25 317.35,148.34 315.64,149.70 316.22,151.81 314.40,150.60 312.58,151.81 313.16,149.70 311.45,148.34 313.63,148.25" fill="#333"/>
<polygon points="321.40,146.20 322.17,148.25 324.35,148.34 322.64,149.70 323.22,151.81 321.40,150.60 319.58,151.81 320.16,149.70 318.45,148.34 320.63,148.25" fill="#333"/>
<text transform="translate(327.00,152.30) scale(0.95,1)" font-size="9.5" text-anchor="start" fill="#444" font-style="italic" stroke="#444" stroke-width="0.12">#</text>
<text transform="translate(7.20,270.60) scale(0.98,1)" font-size="22" text-anchor="start" fill="#111" stroke="#111" stroke-width="0.2">c</text>
<text transform="translate(36.0,374.0) rotate(-90) scale(1.022,1)" font-size="15.4" text-anchor="middle" fill="#111" stroke="#111" stroke-width="0.12">Doubling time (days)</text>
<line x1="63.30" y1="293.70" x2="63.30" y2="463.30" stroke="#000" stroke-width="2" />
<line x1="59.00" y1="462.30" x2="317.50" y2="462.30" stroke="#000" stroke-width="2" />
<line x1="59.00" y1="462.30" x2="63.30" y2="462.30" stroke="#000" stroke-width="2" />
<text transform="translate(54.00,467.60) scale(1.0,1)" font-size="15.4" text-anchor="end" fill="#111"  stroke="#111" stroke-width="0.12">0</text>
<line x1="59.00" y1="420.14" x2="63.30" y2="420.14" stroke="#000" stroke-width="2" />
<text transform="translate(54.00,425.44) scale(1.0,1)" font-size="15.4" text-anchor="end" fill="#111"  stroke="#111" stroke-width="0.12">2</text>
<line x1="59.00" y1="377.98" x2="63.30" y2="377.98" stroke="#000" stroke-width="2" />
<text transform="translate(54.00,383.28) scale(1.0,1)" font-size="15.4" text-anchor="end" fill="#111"  stroke="#111" stroke-width="0.12">4</text>
<line x1="59.00" y1="335.82" x2="63.30" y2="335.82" stroke="#000" stroke-width="2" />
<text transform="translate(54.00,341.12) scale(1.0,1)" font-size="15.4" text-anchor="end" fill="#111"  stroke="#111" stroke-width="0.12">6</text>
<line x1="59.00" y1="293.66" x2="63.30" y2="293.66" stroke="#000" stroke-width="2" />
<text transform="translate(54.00,298.96) scale(1.0,1)" font-size="15.4" text-anchor="end" fill="#111"  stroke="#111" stroke-width="0.12">8</text>
<line x1="95.50" y1="376.29" x2="95.50" y2="363.22" stroke="#000" stroke-width="2" />
<line x1="89.50" y1="363.22" x2="101.50" y2="363.22" stroke="#000" stroke-width="2" />
<rect x="74.75" y="377.29" width="41.50" height="85.01" fill="#e60012" stroke="#000" stroke-width="2"/>
<line x1="95.50" y1="462.30" x2="95.50" y2="467.60" stroke="#000" stroke-width="2" />
<text transform="translate(90.50,487.60) scale(1.02,1)" font-size="15.4" text-anchor="middle" fill="#111"  stroke="#111" stroke-width="0.12">Control</text>
<line x1="158.90" y1="363.65" x2="158.90" y2="353.95" stroke="#000" stroke-width="2" />
<line x1="152.90" y1="353.95" x2="164.90" y2="353.95" stroke="#000" stroke-width="2" />
<rect x="138.15" y="364.65" width="41.50" height="97.65" fill="#009944" stroke="#000" stroke-width="2"/>
<line x1="158.90" y1="462.30" x2="158.90" y2="467.60" stroke="#000" stroke-width="2" />
<text transform="translate(156.00,487.60) scale(1.02,1)" font-size="15.4" text-anchor="middle" fill="#111"  stroke="#111" stroke-width="0.12">IR</text>
<line x1="222.30" y1="356.27" x2="222.30" y2="340.67" stroke="#000" stroke-width="2" />
<line x1="216.30" y1="340.67" x2="228.30" y2="340.67" stroke="#000" stroke-width="2" />
<rect x="201.55" y="357.27" width="41.50" height="105.03" fill="#1d2088" stroke="#000" stroke-width="2"/>
<line x1="222.30" y1="462.30" x2="222.30" y2="467.60" stroke="#000" stroke-width="2" />
<text transform="translate(212.30,487.60) scale(1.02,1)" font-size="15.4" text-anchor="middle" fill="#111"  stroke="#111" stroke-width="0.12">rh-Endo</text>
<line x1="285.20" y1="329.50" x2="285.20" y2="313.48" stroke="#000" stroke-width="2" />
<line x1="279.20" y1="313.48" x2="291.20" y2="313.48" stroke="#000" stroke-width="2" />
<rect x="264.45" y="330.50" width="41.50" height="131.80" fill="#000000" stroke="#000" stroke-width="2"/>
<line x1="285.20" y1="462.30" x2="285.20" y2="467.60" stroke="#000" stroke-width="2" />
<text transform="translate(291.00,487.60) scale(1.02,1)" font-size="15.4" text-anchor="middle" fill="#111"  stroke="#111" stroke-width="0.12">rh-Endo+IR</text>
<line x1="140.15" y1="376.90" x2="177.65" y2="376.90" stroke="#fff" stroke-width="1" stroke-dasharray="2,2"/>
<line x1="203.55" y1="376.90" x2="241.05" y2="376.90" stroke="#fff" stroke-width="1" stroke-dasharray="2,2"/>
<polyline points="96.00,354.50 96.00,271.90 285.00,271.90 285.00,298.50" fill="none" stroke="#000" stroke-width="2" stroke-linejoin="miter" />
<polyline points="158.30,330.90 158.30,288.10 285.00,288.10" fill="none" stroke="#000" stroke-width="2" stroke-linejoin="miter" />
<text transform="translate(186.40,271.50) scale(1.02,1)" font-size="15.5" text-anchor="middle" fill="#222"  stroke="#222" stroke-width="0.12">*</text>
<text transform="translate(215.60,288.00) scale(1.02,1)" font-size="15.5" text-anchor="middle" fill="#222"  stroke="#222" stroke-width="0.12">*</text>
<text transform="translate(356.90,270.60) scale(1.03,1)" font-size="21.5" text-anchor="start" fill="#111" stroke="#111" stroke-width="0.2">d</text>
<line x1="393.70" y1="304.00" x2="393.70" y2="461.50" stroke="#000" stroke-width="2" />
<line x1="388.70" y1="460.50" x2="626.80" y2="460.50" stroke="#000" stroke-width="2" />
<line x1="388.70" y1="460.50" x2="393.70" y2="460.50" stroke="#000" stroke-width="2" />
<text transform="translate(386.80,465.80) scale(1.0,1)" font-size="15.4" text-anchor="end" fill="#111"  stroke="#111" stroke-width="0.12">0</text>
<line x1="388.70" y1="429.20" x2="393.70" y2="429.20" stroke="#000" stroke-width="2" />
<text transform="translate(386.80,434.50) scale(1.0,1)" font-size="15.4" text-anchor="end" fill="#111"  stroke="#111" stroke-width="0.12">20</text>
<line x1="388.70" y1="397.90" x2="393.70" y2="397.90" stroke="#000" stroke-width="2" />
<text transform="translate(386.80,403.20) scale(1.0,1)" font-size="15.4" text-anchor="end" fill="#111"  stroke="#111" stroke-width="0.12">40</text>
<line x1="388.70" y1="366.60" x2="393.70" y2="366.60" stroke="#000" stroke-width="2" />
<text transform="translate(386.80,371.90) scale(1.0,1)" font-size="15.4" text-anchor="end" fill="#111"  stroke="#111" stroke-width="0.12">60</text>
<line x1="388.70" y1="335.30" x2="393.70" y2="335.30" stroke="#000" stroke-width="2" />
<text transform="translate(386.80,340.60) scale(1.0,1)" font-size="15.4" text-anchor="end" fill="#111"  stroke="#111" stroke-width="0.12">80</text>
<line x1="388.70" y1="304.00" x2="393.70" y2="304.00" stroke="#000" stroke-width="2" />
<text transform="translate(386.80,309.30) scale(1.0,1)" font-size="15.4" text-anchor="end" fill="#111"  stroke="#111" stroke-width="0.12">100</text>
<line x1="393.70" y1="460.50" x2="393.70" y2="465.10" stroke="#000" stroke-width="2" />
<text transform="translate(393.70,482.00) scale(1.0,1)" font-size="15.4" text-anchor="middle" fill="#111"  stroke="#111" stroke-width="0.12">0</text>
<line x1="445.50" y1="460.50" x2="445.50" y2="465.10" stroke="#000" stroke-width="2" />
<text transform="translate(445.50,482.00) scale(1.0,1)" font-size="15.4" text-anchor="middle" fill="#111"  stroke="#111" stroke-width="0.12">20</text>
<line x1="497.30" y1="460.50" x2="497.30" y2="465.10" stroke="#000" stroke-width="2" />
<text transform="translate(497.30,482.00) scale(1.0,1)" font-size="15.4" text-anchor="middle" fill="#111"  stroke="#111" stroke-width="0.12">40</text>
<line x1="549.10" y1="460.50" x2="549.10" y2="465.10" stroke="#000" stroke-width="2" />
<text transform="translate(549.10,482.00) scale(1.0,1)" font-size="15.4" text-anchor="middle" fill="#111"  stroke="#111" stroke-width="0.12">60</text>
<line x1="600.90" y1="460.50" x2="600.90" y2="465.10" stroke="#000" stroke-width="2" />
<text transform="translate(600.90,482.00) scale(1.0,1)" font-size="15.4" text-anchor="middle" fill="#111"  stroke="#111" stroke-width="0.12">80</text>
<text transform="translate(499.40,497.40) scale(1.02,1)" font-size="15.4" text-anchor="middle" fill="#111"  stroke="#111" stroke-width="0.12">Days</text>
<text transform="translate(358.0,378.7) rotate(-90) scale(1.045,1)" font-size="15.4" text-anchor="middle" fill="#111" stroke="#111" stroke-width="0.12">Percent survival (%)</text>
<polyline points="393.70,304.00 476.58,304.00 476.58,330.08 497.30,330.08 497.30,356.17 510.25,356.17 510.25,382.25 520.61,382.25 520.61,408.33 536.15,408.33 536.15,434.42 556.87,434.42 556.87,460.50" fill="none" stroke="#e60012" stroke-width="1.8" stroke-linejoin="miter" />
<polyline points="393.70,304.00 486.94,304.00 486.94,330.08 507.66,330.08 507.66,356.17 518.02,356.17 518.02,382.25 546.51,382.25 546.51,408.33 564.64,408.33 564.64,434.42 580.18,434.42 580.18,460.50" fill="none" stroke="#009944" stroke-width="1.8" stroke-linejoin="miter" />
<polyline points="393.70,304.00 497.30,304.00 497.30,330.08 518.02,330.08 518.02,356.17 536.15,356.17 536.15,382.25 559.46,382.25 559.46,408.33 587.95,408.33 587.95,434.42 600.90,434.42" fill="none" stroke="#1d2088" stroke-width="1.8" stroke-linejoin="miter" />
<polyline points="393.70,304.00 510.25,304.00 510.25,330.08 530.97,330.08 530.97,356.17 554.28,356.17 554.28,382.25 575.00,382.25 575.00,408.33 600.90,408.33" fill="none" stroke="#000000" stroke-width="1.8" stroke-linejoin="miter" />
<circle cx="476.58" cy="330.08" r="4.30" fill="#e60012"/>
<circle cx="497.30" cy="356.17" r="4.30" fill="#e60012"/>
<circle cx="510.25" cy="382.25" r="4.30" fill="#e60012"/>
<circle cx="520.61" cy="408.33" r="4.30" fill="#e60012"/>
<circle cx="536.15" cy="434.42" r="4.30" fill="#e60012"/>
<circle cx="556.87" cy="460.50" r="4.30" fill="#e60012"/>
<rect x="482.84" y="325.98" width="8.20" height="8.20" fill="#009944"/>
<rect x="503.56" y="352.07" width="8.20" height="8.20" fill="#009944"/>
<rect x="513.92" y="378.15" width="8.20" height="8.20" fill="#009944"/>
<rect x="542.41" y="404.23" width="8.20" height="8.20" fill="#009944"/>
<rect x="560.54" y="430.32" width="8.20" height="8.20" fill="#009944"/>
<rect x="576.08" y="456.40" width="8.20" height="8.20" fill="#009944"/>
<polygon points="497.30,326.11 501.60,333.33 493.00,333.33" fill="#1d2088"/>
<polygon points="518.02,352.19 522.32,359.42 513.72,359.42" fill="#1d2088"/>
<polygon points="536.15,378.28 540.45,385.50 531.85,385.50" fill="#1d2088"/>
<polygon points="559.46,404.36 563.76,411.58 555.16,411.58" fill="#1d2088"/>
<polygon points="587.95,430.44 592.25,437.67 583.65,437.67" fill="#1d2088"/>
<polygon points="600.90,430.44 605.20,437.67 596.60,437.67" fill="#1d2088"/>
<polygon points="510.25,334.34 514.55,326.60 505.95,326.60" fill="#000000"/>
<polygon points="530.97,360.42 535.27,352.68 526.67,352.68" fill="#000000"/>
<polygon points="554.28,386.51 558.58,378.77 549.98,378.77" fill="#000000"/>
<polygon points="575.00,412.59 579.30,404.85 570.70,404.85" fill="#000000"/>
<polygon points="600.90,412.59 605.20,404.85 596.60,404.85" fill="#000000"/>
<line x1="578.00" y1="318.00" x2="595.40" y2="318.00" stroke="#e60012" stroke-width="2" />
<circle cx="587.00" cy="318.00" r="3.80" fill="#e60012"/>
<text transform="translate(603.20,322.40) scale(1.02,1)" font-size="15.4" text-anchor="start" fill="#111"  stroke="#111" stroke-width="0.12">Control</text>
<line x1="578.00" y1="335.60" x2="595.40" y2="335.60" stroke="#009944" stroke-width="2" />
<rect x="583.40" y="332.00" width="7.20" height="7.20" fill="#009944"/>
<text transform="translate(603.20,340.25) scale(1.02,1)" font-size="15.4" text-anchor="start" fill="#111"  stroke="#111" stroke-width="0.12">IR</text>
<line x1="578.00" y1="353.20" x2="595.40" y2="353.20" stroke="#1d2088" stroke-width="2" />
<polygon points="587.00,349.32 591.20,356.38 582.80,356.38" fill="#1d2088"/>
<text transform="translate(603.20,358.10) scale(1.02,1)" font-size="15.4" text-anchor="start" fill="#111"  stroke="#111" stroke-width="0.12">rh-Endo</text>
<line x1="578.00" y1="370.80" x2="595.40" y2="370.80" stroke="#000000" stroke-width="2" />
<polygon points="587.00,374.96 591.20,367.40 582.80,367.40" fill="#000000"/>
<text transform="translate(603.20,375.95) scale(1.02,1)" font-size="15.4" text-anchor="start" fill="#111"  stroke="#111" stroke-width="0.12">rh-Endo+IR</text>
<text transform="translate(357.00,17.20) scale(1.03,1)" font-size="21.5" text-anchor="start" fill="#111" stroke="#111" stroke-width="0.2">b</text>
<text transform="translate(405.00,244.00) scale(1.02,1)" font-size="15.4" text-anchor="start" fill="#111"  stroke="#111" stroke-width="0.12">Control</text>
<text transform="translate(487.60,244.00) scale(1.02,1)" font-size="15.4" text-anchor="start" fill="#111"  stroke="#111" stroke-width="0.12">IR</text>
<text transform="translate(524.80,244.00) scale(1.02,1)" font-size="15.4" text-anchor="start" fill="#111"  stroke="#111" stroke-width="0.12">rh-Endo</text>
<text transform="translate(590.00,244.00) scale(1.02,1)" font-size="15.4" text-anchor="start" fill="#111"  stroke="#111" stroke-width="0.12">rh-Endo+IR</text>
</g>
</svg>
</body></html>
